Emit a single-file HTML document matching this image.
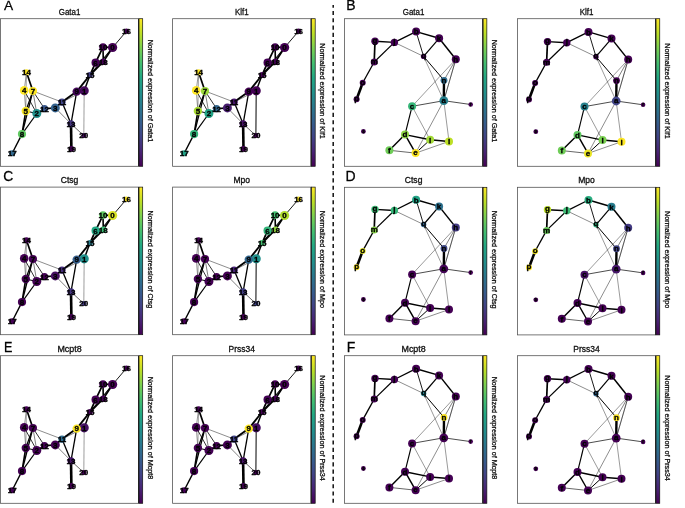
<!DOCTYPE html>
<html><head><meta charset="utf-8"><title>Figure</title>
<style>
html,body{margin:0;padding:0;background:#fff;}
body{width:685px;height:508px;overflow:hidden;font-family:"Liberation Sans",sans-serif;}
svg{display:block;font-family:"Liberation Sans",sans-serif;}
text{stroke:#000;stroke-width:0.28px;paint-order:stroke;}
text.nl{stroke-width:0.3px;}
</style></head><body>
<svg width="685" height="508" viewBox="0 0 685 508">
<defs><linearGradient id="vg" x1="0" y1="0" x2="0" y2="1">
<stop offset="0.0" stop-color="#fde725"/>
<stop offset="0.1" stop-color="#bddf26"/>
<stop offset="0.2" stop-color="#7ad151"/>
<stop offset="0.3" stop-color="#44bf70"/>
<stop offset="0.4" stop-color="#22a884"/>
<stop offset="0.5" stop-color="#21918c"/>
<stop offset="0.6" stop-color="#2a788e"/>
<stop offset="0.7" stop-color="#355f8d"/>
<stop offset="0.8" stop-color="#414487"/>
<stop offset="0.9" stop-color="#482475"/>
<stop offset="1.0" stop-color="#440154"/>
</linearGradient></defs>
<rect width="685" height="508" fill="#fff"/>
<g opacity="0.999">
<rect x="0.55" y="18.70" width="138.00" height="147.60" fill="#fff" stroke="#555" stroke-width="0.8"/>
<line x1="138.55" y1="18.70" x2="138.55" y2="166.30" stroke="#111" stroke-width="0.8"/>
<rect x="139.00" y="18.70" width="3.70" height="147.60" fill="url(#vg)" stroke="#111" stroke-width="0.7"/>
<text x="58.75" y="15.25" font-size="8.4" textLength="21.6" lengthAdjust="spacingAndGlyphs" fill="#111">Gata1</text>
<text transform="translate(147.75 91.00) rotate(90) scale(0.948 1)" font-size="7.6" text-anchor="middle" fill="#111">Normalized expression of Gata1</text>
<line x1="126.5" y1="31.2" x2="112.6" y2="47.5" stroke="#000" stroke-width="0.90"/>
<line x1="103.0" y1="47.1" x2="112.6" y2="47.5" stroke="#000" stroke-width="1.60"/>
<line x1="103.0" y1="47.1" x2="95.6" y2="62.7" stroke="#000" stroke-width="1.70"/>
<line x1="103.0" y1="47.1" x2="103.3" y2="61.7" stroke="#000" stroke-width="1.60"/>
<line x1="112.6" y1="47.5" x2="103.3" y2="61.7" stroke="#000" stroke-width="1.70"/>
<line x1="95.6" y1="62.7" x2="103.3" y2="61.7" stroke="#000" stroke-width="1.40"/>
<line x1="95.6" y1="62.7" x2="90.0" y2="75.0" stroke="#000" stroke-width="1.80"/>
<line x1="103.3" y1="61.7" x2="90.0" y2="75.0" stroke="#000" stroke-width="1.80"/>
<line x1="112.6" y1="47.5" x2="90.0" y2="75.0" stroke="#000" stroke-width="1.10"/>
<line x1="90.0" y1="75.0" x2="76.7" y2="91.6" stroke="#000" stroke-width="1.90"/>
<line x1="90.0" y1="75.0" x2="84.2" y2="90.8" stroke="#000" stroke-width="1.50"/>
<line x1="76.7" y1="91.6" x2="84.2" y2="90.8" stroke="#000" stroke-width="1.00"/>
<line x1="76.7" y1="91.6" x2="62.0" y2="102.1" stroke="#000" stroke-width="1.90"/>
<line x1="84.2" y1="90.8" x2="62.0" y2="102.1" stroke="#000" stroke-width="0.50"/>
<line x1="84.2" y1="90.8" x2="83.8" y2="135.6" stroke="#a6a6a6" stroke-width="1.10"/>
<line x1="76.7" y1="91.6" x2="71.0" y2="123.8" stroke="#000" stroke-width="1.30"/>
<line x1="62.0" y1="102.1" x2="71.0" y2="123.8" stroke="#000" stroke-width="1.30"/>
<line x1="62.0" y1="102.1" x2="55.3" y2="107.9" stroke="#000" stroke-width="1.60"/>
<line x1="55.3" y1="107.9" x2="44.5" y2="108.7" stroke="#000" stroke-width="1.60"/>
<line x1="44.5" y1="108.7" x2="36.8" y2="113.5" stroke="#000" stroke-width="1.60"/>
<line x1="36.8" y1="113.5" x2="25.8" y2="111.0" stroke="#000" stroke-width="1.00"/>
<line x1="36.8" y1="113.5" x2="32.9" y2="91.0" stroke="#000" stroke-width="0.50"/>
<line x1="36.8" y1="113.5" x2="24.2" y2="90.4" stroke="#000" stroke-width="0.80"/>
<line x1="36.8" y1="113.5" x2="22.0" y2="134.1" stroke="#000" stroke-width="1.20"/>
<line x1="25.8" y1="111.0" x2="22.0" y2="134.1" stroke="#000" stroke-width="1.60"/>
<line x1="25.8" y1="111.0" x2="32.9" y2="91.0" stroke="#000" stroke-width="1.20"/>
<line x1="32.9" y1="91.0" x2="22.0" y2="134.1" stroke="#000" stroke-width="1.30"/>
<line x1="25.8" y1="111.0" x2="24.2" y2="90.4" stroke="#000" stroke-width="0.40"/>
<line x1="24.2" y1="90.4" x2="26.5" y2="72.2" stroke="#000" stroke-width="0.40"/>
<line x1="32.9" y1="91.0" x2="26.5" y2="72.2" stroke="#000" stroke-width="1.70"/>
<line x1="32.9" y1="91.0" x2="62.0" y2="102.1" stroke="#000" stroke-width="0.45"/>
<line x1="32.9" y1="91.0" x2="44.5" y2="108.7" stroke="#000" stroke-width="0.80"/>
<line x1="55.3" y1="107.9" x2="71.0" y2="123.8" stroke="#000" stroke-width="0.50"/>
<line x1="71.0" y1="123.8" x2="71.4" y2="148.9" stroke="#000" stroke-width="2.60"/>
<line x1="71.0" y1="123.8" x2="83.8" y2="135.6" stroke="#000" stroke-width="0.60"/>
<line x1="22.0" y1="134.1" x2="12.2" y2="153.2" stroke="#000" stroke-width="1.40"/>
<line x1="26.5" y1="72.2" x2="25.8" y2="111.0" stroke="#000" stroke-width="0.35"/>
<circle cx="112.6" cy="47.5" r="4.6" fill="#440154"/>
<circle cx="84.2" cy="90.8" r="4.6" fill="#45085b"/>
<circle cx="36.8" cy="113.5" r="4.5" fill="#21918c"/>
<circle cx="55.3" cy="107.9" r="4.5" fill="#34628d"/>
<circle cx="24.2" cy="90.4" r="4.3" fill="#fde725"/>
<circle cx="25.8" cy="111.0" r="4.2" fill="#f7e625"/>
<circle cx="95.6" cy="62.7" r="4.1" fill="#440154"/>
<circle cx="32.9" cy="91.0" r="4.1" fill="#fde725"/>
<circle cx="22.0" cy="134.1" r="4.1" fill="#5fc860"/>
<circle cx="76.7" cy="91.6" r="4.2" fill="#45085b"/>
<circle cx="103.0" cy="47.1" r="3.8" fill="#440154"/>
<circle cx="62.0" cy="102.1" r="3.7" fill="#414487"/>
<circle cx="44.5" cy="108.7" r="3.6" fill="#39578b"/>
<circle cx="71.0" cy="123.8" r="3.6" fill="#44347e"/>
<circle cx="26.5" cy="72.2" r="3.0" fill="#fde725"/>
<circle cx="90.0" cy="75.0" r="2.9" fill="#423e83"/>
<circle cx="126.5" cy="31.2" r="2.6" fill="#440154"/>
<circle cx="12.2" cy="153.2" r="3.0" fill="#31698d"/>
<circle cx="103.3" cy="61.7" r="3.2" fill="#440154"/>
<circle cx="71.4" cy="148.9" r="2.8" fill="#440154"/>
<circle cx="83.8" cy="135.6" r="2.5" fill="#450c5e"/>
<text class="nl" x="112.6" y="50.3" font-size="8" font-weight="bold" text-anchor="middle" fill="#000">0</text>
<text class="nl" x="84.2" y="93.6" font-size="8" font-weight="bold" text-anchor="middle" fill="#000">1</text>
<text class="nl" x="36.8" y="116.3" font-size="8" font-weight="bold" text-anchor="middle" fill="#000">2</text>
<text class="nl" x="55.3" y="110.7" font-size="8" font-weight="bold" text-anchor="middle" fill="#000">3</text>
<text class="nl" x="24.2" y="93.2" font-size="8" font-weight="bold" text-anchor="middle" fill="#000">4</text>
<text class="nl" x="25.8" y="113.8" font-size="8" font-weight="bold" text-anchor="middle" fill="#000">5</text>
<text class="nl" x="95.6" y="65.5" font-size="8" font-weight="bold" text-anchor="middle" fill="#000">6</text>
<text class="nl" x="32.9" y="93.8" font-size="8" font-weight="bold" text-anchor="middle" fill="#000">7</text>
<text class="nl" x="22.0" y="136.9" font-size="8" font-weight="bold" text-anchor="middle" fill="#000">8</text>
<text class="nl" x="76.7" y="94.4" font-size="8" font-weight="bold" text-anchor="middle" fill="#000">9</text>
<text class="nl" x="103.0" y="49.9" font-size="8" font-weight="bold" text-anchor="middle" fill="#000">10</text>
<text class="nl" x="62.0" y="104.9" font-size="8" font-weight="bold" text-anchor="middle" fill="#000">11</text>
<text class="nl" x="44.5" y="111.5" font-size="8" font-weight="bold" text-anchor="middle" fill="#000">12</text>
<text class="nl" x="71.0" y="126.6" font-size="8" font-weight="bold" text-anchor="middle" fill="#000">13</text>
<text class="nl" x="26.5" y="75.0" font-size="8" font-weight="bold" text-anchor="middle" fill="#000">14</text>
<text class="nl" x="90.0" y="77.8" font-size="8" font-weight="bold" text-anchor="middle" fill="#000">15</text>
<text class="nl" x="126.5" y="34.0" font-size="8" font-weight="bold" text-anchor="middle" fill="#000">16</text>
<text class="nl" x="12.2" y="156.0" font-size="8" font-weight="bold" text-anchor="middle" fill="#000">17</text>
<text class="nl" x="103.3" y="64.5" font-size="8" font-weight="bold" text-anchor="middle" fill="#000">18</text>
<text class="nl" x="71.4" y="151.7" font-size="8" font-weight="bold" text-anchor="middle" fill="#000">19</text>
<text class="nl" x="83.8" y="138.4" font-size="8" font-weight="bold" text-anchor="middle" fill="#000">20</text>
<rect x="172.60" y="18.70" width="138.45" height="147.60" fill="#fff" stroke="#555" stroke-width="0.8"/>
<line x1="311.05" y1="18.70" x2="311.05" y2="166.30" stroke="#111" stroke-width="0.8"/>
<rect x="311.50" y="18.70" width="3.70" height="147.60" fill="url(#vg)" stroke="#111" stroke-width="0.7"/>
<text x="234.98" y="15.25" font-size="8.4" textLength="13.7" lengthAdjust="spacingAndGlyphs" fill="#111">Klf1</text>
<text transform="translate(320.25 91.00) rotate(90) scale(0.948 1)" font-size="7.6" text-anchor="middle" fill="#111">Normalized expression of Klf1</text>
<line x1="298.6" y1="31.2" x2="284.6" y2="47.5" stroke="#000" stroke-width="0.90"/>
<line x1="275.1" y1="47.1" x2="284.6" y2="47.5" stroke="#000" stroke-width="1.60"/>
<line x1="275.1" y1="47.1" x2="267.6" y2="62.7" stroke="#000" stroke-width="1.70"/>
<line x1="275.1" y1="47.1" x2="275.4" y2="61.7" stroke="#000" stroke-width="1.60"/>
<line x1="284.6" y1="47.5" x2="275.4" y2="61.7" stroke="#000" stroke-width="1.70"/>
<line x1="267.6" y1="62.7" x2="275.4" y2="61.7" stroke="#000" stroke-width="1.40"/>
<line x1="267.6" y1="62.7" x2="262.1" y2="75.0" stroke="#000" stroke-width="1.80"/>
<line x1="275.4" y1="61.7" x2="262.1" y2="75.0" stroke="#000" stroke-width="1.80"/>
<line x1="284.6" y1="47.5" x2="262.1" y2="75.0" stroke="#000" stroke-width="1.10"/>
<line x1="262.1" y1="75.0" x2="248.8" y2="91.6" stroke="#000" stroke-width="1.90"/>
<line x1="262.1" y1="75.0" x2="256.2" y2="90.8" stroke="#000" stroke-width="1.50"/>
<line x1="248.8" y1="91.6" x2="256.2" y2="90.8" stroke="#000" stroke-width="1.00"/>
<line x1="248.8" y1="91.6" x2="234.1" y2="102.1" stroke="#000" stroke-width="1.90"/>
<line x1="256.2" y1="90.8" x2="234.1" y2="102.1" stroke="#000" stroke-width="0.50"/>
<line x1="256.2" y1="90.8" x2="255.9" y2="135.6" stroke="#000" stroke-width="1.00"/>
<line x1="248.8" y1="91.6" x2="243.1" y2="123.8" stroke="#000" stroke-width="1.30"/>
<line x1="234.1" y1="102.1" x2="243.1" y2="123.8" stroke="#000" stroke-width="1.30"/>
<line x1="234.1" y1="102.1" x2="227.4" y2="107.9" stroke="#000" stroke-width="1.60"/>
<line x1="227.4" y1="107.9" x2="216.6" y2="108.7" stroke="#000" stroke-width="1.60"/>
<line x1="216.6" y1="108.7" x2="208.9" y2="113.5" stroke="#000" stroke-width="1.60"/>
<line x1="208.9" y1="113.5" x2="197.9" y2="111.0" stroke="#000" stroke-width="1.00"/>
<line x1="208.9" y1="113.5" x2="205.0" y2="91.0" stroke="#000" stroke-width="0.50"/>
<line x1="208.9" y1="113.5" x2="196.2" y2="90.4" stroke="#000" stroke-width="0.80"/>
<line x1="208.9" y1="113.5" x2="194.1" y2="134.1" stroke="#000" stroke-width="1.20"/>
<line x1="197.9" y1="111.0" x2="194.1" y2="134.1" stroke="#000" stroke-width="1.60"/>
<line x1="197.9" y1="111.0" x2="205.0" y2="91.0" stroke="#000" stroke-width="1.20"/>
<line x1="205.0" y1="91.0" x2="194.1" y2="134.1" stroke="#000" stroke-width="1.30"/>
<line x1="197.9" y1="111.0" x2="196.2" y2="90.4" stroke="#000" stroke-width="0.40"/>
<line x1="196.2" y1="90.4" x2="198.6" y2="72.2" stroke="#000" stroke-width="0.40"/>
<line x1="205.0" y1="91.0" x2="198.6" y2="72.2" stroke="#000" stroke-width="1.70"/>
<line x1="205.0" y1="91.0" x2="234.1" y2="102.1" stroke="#000" stroke-width="0.45"/>
<line x1="205.0" y1="91.0" x2="216.6" y2="108.7" stroke="#000" stroke-width="0.80"/>
<line x1="227.4" y1="107.9" x2="243.1" y2="123.8" stroke="#000" stroke-width="0.50"/>
<line x1="243.1" y1="123.8" x2="243.5" y2="148.9" stroke="#000" stroke-width="2.60"/>
<line x1="243.1" y1="123.8" x2="255.9" y2="135.6" stroke="#000" stroke-width="0.60"/>
<line x1="194.1" y1="134.1" x2="184.2" y2="153.2" stroke="#000" stroke-width="1.40"/>
<line x1="198.6" y1="72.2" x2="197.9" y2="111.0" stroke="#000" stroke-width="0.35"/>
<circle cx="284.6" cy="47.5" r="4.6" fill="#440154"/>
<circle cx="256.2" cy="90.8" r="4.6" fill="#440154"/>
<circle cx="208.9" cy="113.5" r="4.5" fill="#22a386"/>
<circle cx="227.4" cy="107.9" r="4.5" fill="#471d6e"/>
<circle cx="196.2" cy="90.4" r="4.3" fill="#fde725"/>
<circle cx="197.9" cy="111.0" r="4.2" fill="#a9db33"/>
<circle cx="267.6" cy="62.7" r="4.1" fill="#440154"/>
<circle cx="205.0" cy="91.0" r="4.1" fill="#9bd83c"/>
<circle cx="194.1" cy="134.1" r="4.1" fill="#33b47a"/>
<circle cx="248.8" cy="91.6" r="4.2" fill="#440154"/>
<circle cx="275.1" cy="47.1" r="3.8" fill="#440154"/>
<circle cx="234.1" cy="102.1" r="3.7" fill="#461668"/>
<circle cx="216.6" cy="108.7" r="3.6" fill="#32668d"/>
<circle cx="243.1" cy="123.8" r="3.6" fill="#461264"/>
<circle cx="198.6" cy="72.2" r="3.0" fill="#fde725"/>
<circle cx="262.1" cy="75.0" r="2.9" fill="#440154"/>
<circle cx="298.6" cy="31.2" r="2.6" fill="#440154"/>
<circle cx="184.2" cy="153.2" r="3.0" fill="#22a186"/>
<circle cx="275.4" cy="61.7" r="3.2" fill="#440154"/>
<circle cx="243.5" cy="148.9" r="2.8" fill="#440154"/>
<circle cx="255.9" cy="135.6" r="2.5" fill="#440154"/>
<text class="nl" x="284.6" y="50.3" font-size="8" font-weight="bold" text-anchor="middle" fill="#000">0</text>
<text class="nl" x="256.2" y="93.6" font-size="8" font-weight="bold" text-anchor="middle" fill="#000">1</text>
<text class="nl" x="208.9" y="116.3" font-size="8" font-weight="bold" text-anchor="middle" fill="#000">2</text>
<text class="nl" x="227.4" y="110.7" font-size="8" font-weight="bold" text-anchor="middle" fill="#000">3</text>
<text class="nl" x="196.2" y="93.2" font-size="8" font-weight="bold" text-anchor="middle" fill="#000">4</text>
<text class="nl" x="197.9" y="113.8" font-size="8" font-weight="bold" text-anchor="middle" fill="#000">5</text>
<text class="nl" x="267.6" y="65.5" font-size="8" font-weight="bold" text-anchor="middle" fill="#000">6</text>
<text class="nl" x="205.0" y="93.8" font-size="8" font-weight="bold" text-anchor="middle" fill="#000">7</text>
<text class="nl" x="194.1" y="136.9" font-size="8" font-weight="bold" text-anchor="middle" fill="#000">8</text>
<text class="nl" x="248.8" y="94.4" font-size="8" font-weight="bold" text-anchor="middle" fill="#000">9</text>
<text class="nl" x="275.1" y="49.9" font-size="8" font-weight="bold" text-anchor="middle" fill="#000">10</text>
<text class="nl" x="234.1" y="104.9" font-size="8" font-weight="bold" text-anchor="middle" fill="#000">11</text>
<text class="nl" x="216.6" y="111.5" font-size="8" font-weight="bold" text-anchor="middle" fill="#000">12</text>
<text class="nl" x="243.1" y="126.6" font-size="8" font-weight="bold" text-anchor="middle" fill="#000">13</text>
<text class="nl" x="198.6" y="75.0" font-size="8" font-weight="bold" text-anchor="middle" fill="#000">14</text>
<text class="nl" x="262.1" y="77.8" font-size="8" font-weight="bold" text-anchor="middle" fill="#000">15</text>
<text class="nl" x="298.6" y="34.0" font-size="8" font-weight="bold" text-anchor="middle" fill="#000">16</text>
<text class="nl" x="184.2" y="156.0" font-size="8" font-weight="bold" text-anchor="middle" fill="#000">17</text>
<text class="nl" x="275.4" y="64.5" font-size="8" font-weight="bold" text-anchor="middle" fill="#000">18</text>
<text class="nl" x="243.5" y="151.7" font-size="8" font-weight="bold" text-anchor="middle" fill="#000">19</text>
<text class="nl" x="255.9" y="138.4" font-size="8" font-weight="bold" text-anchor="middle" fill="#000">20</text>
<rect x="0.55" y="187.10" width="138.00" height="147.60" fill="#fff" stroke="#555" stroke-width="0.8"/>
<line x1="138.55" y1="187.10" x2="138.55" y2="334.70" stroke="#111" stroke-width="0.8"/>
<rect x="139.00" y="187.10" width="3.70" height="147.60" fill="url(#vg)" stroke="#111" stroke-width="0.7"/>
<text x="60.75" y="183.20" font-size="8.4" textLength="17.6" lengthAdjust="spacingAndGlyphs" fill="#111">Ctsg</text>
<text transform="translate(147.75 259.40) rotate(90) scale(0.948 1)" font-size="7.6" text-anchor="middle" fill="#111">Normalized expression of Ctsg</text>
<line x1="126.5" y1="199.2" x2="112.6" y2="215.5" stroke="#000" stroke-width="0.90"/>
<line x1="103.0" y1="215.1" x2="112.6" y2="215.5" stroke="#000" stroke-width="1.60"/>
<line x1="103.0" y1="215.1" x2="95.6" y2="230.7" stroke="#000" stroke-width="1.70"/>
<line x1="103.0" y1="215.1" x2="103.3" y2="229.7" stroke="#000" stroke-width="1.60"/>
<line x1="112.6" y1="215.5" x2="103.3" y2="229.7" stroke="#000" stroke-width="1.70"/>
<line x1="95.6" y1="230.7" x2="103.3" y2="229.7" stroke="#000" stroke-width="1.40"/>
<line x1="95.6" y1="230.7" x2="90.0" y2="243.0" stroke="#000" stroke-width="1.80"/>
<line x1="103.3" y1="229.7" x2="90.0" y2="243.0" stroke="#000" stroke-width="1.80"/>
<line x1="112.6" y1="215.5" x2="90.0" y2="243.0" stroke="#000" stroke-width="1.10"/>
<line x1="90.0" y1="243.0" x2="76.7" y2="259.6" stroke="#000" stroke-width="1.90"/>
<line x1="90.0" y1="243.0" x2="84.2" y2="258.8" stroke="#000" stroke-width="1.50"/>
<line x1="76.7" y1="259.6" x2="84.2" y2="258.8" stroke="#000" stroke-width="1.00"/>
<line x1="76.7" y1="259.6" x2="62.0" y2="270.1" stroke="#000" stroke-width="1.90"/>
<line x1="84.2" y1="258.8" x2="62.0" y2="270.1" stroke="#000" stroke-width="0.50"/>
<line x1="84.2" y1="258.8" x2="83.8" y2="303.6" stroke="#a6a6a6" stroke-width="1.10"/>
<line x1="76.7" y1="259.6" x2="71.0" y2="291.8" stroke="#000" stroke-width="1.30"/>
<line x1="62.0" y1="270.1" x2="71.0" y2="291.8" stroke="#000" stroke-width="1.30"/>
<line x1="62.0" y1="270.1" x2="55.3" y2="275.9" stroke="#000" stroke-width="1.60"/>
<line x1="55.3" y1="275.9" x2="44.5" y2="276.7" stroke="#000" stroke-width="1.60"/>
<line x1="44.5" y1="276.7" x2="36.8" y2="281.5" stroke="#000" stroke-width="1.60"/>
<line x1="36.8" y1="281.5" x2="25.8" y2="279.0" stroke="#000" stroke-width="1.00"/>
<line x1="36.8" y1="281.5" x2="32.9" y2="259.0" stroke="#000" stroke-width="0.50"/>
<line x1="36.8" y1="281.5" x2="24.2" y2="258.4" stroke="#000" stroke-width="0.80"/>
<line x1="36.8" y1="281.5" x2="22.0" y2="302.1" stroke="#000" stroke-width="1.20"/>
<line x1="25.8" y1="279.0" x2="22.0" y2="302.1" stroke="#000" stroke-width="1.60"/>
<line x1="25.8" y1="279.0" x2="32.9" y2="259.0" stroke="#000" stroke-width="1.20"/>
<line x1="32.9" y1="259.0" x2="22.0" y2="302.1" stroke="#000" stroke-width="1.30"/>
<line x1="25.8" y1="279.0" x2="24.2" y2="258.4" stroke="#000" stroke-width="0.40"/>
<line x1="24.2" y1="258.4" x2="26.5" y2="240.2" stroke="#000" stroke-width="0.40"/>
<line x1="32.9" y1="259.0" x2="26.5" y2="240.2" stroke="#000" stroke-width="1.70"/>
<line x1="32.9" y1="259.0" x2="62.0" y2="270.1" stroke="#000" stroke-width="0.45"/>
<line x1="32.9" y1="259.0" x2="44.5" y2="276.7" stroke="#000" stroke-width="0.80"/>
<line x1="55.3" y1="275.9" x2="71.0" y2="291.8" stroke="#000" stroke-width="0.50"/>
<line x1="71.0" y1="291.8" x2="71.4" y2="316.9" stroke="#000" stroke-width="2.60"/>
<line x1="71.0" y1="291.8" x2="83.8" y2="303.6" stroke="#000" stroke-width="0.60"/>
<line x1="22.0" y1="302.1" x2="12.2" y2="321.2" stroke="#000" stroke-width="1.40"/>
<line x1="26.5" y1="240.2" x2="25.8" y2="279.0" stroke="#000" stroke-width="0.35"/>
<circle cx="112.6" cy="215.5" r="4.6" fill="#d7e226"/>
<circle cx="84.2" cy="258.8" r="4.6" fill="#21918c"/>
<circle cx="36.8" cy="281.5" r="4.5" fill="#440154"/>
<circle cx="55.3" cy="275.9" r="4.5" fill="#460f61"/>
<circle cx="24.2" cy="258.4" r="4.3" fill="#440154"/>
<circle cx="25.8" cy="279.0" r="4.2" fill="#440154"/>
<circle cx="95.6" cy="230.7" r="4.1" fill="#22a884"/>
<circle cx="32.9" cy="259.0" r="4.1" fill="#440154"/>
<circle cx="22.0" cy="302.1" r="4.1" fill="#440154"/>
<circle cx="76.7" cy="259.6" r="4.2" fill="#355f8d"/>
<circle cx="103.0" cy="215.1" r="3.8" fill="#5fc860"/>
<circle cx="62.0" cy="270.1" r="3.7" fill="#462e7a"/>
<circle cx="44.5" cy="276.7" r="3.6" fill="#440154"/>
<circle cx="71.0" cy="291.8" r="3.6" fill="#44347e"/>
<circle cx="26.5" cy="240.2" r="3.0" fill="#440154"/>
<circle cx="90.0" cy="243.0" r="2.9" fill="#287d8e"/>
<circle cx="126.5" cy="199.2" r="2.6" fill="#fde725"/>
<circle cx="12.2" cy="321.2" r="3.0" fill="#440154"/>
<circle cx="103.3" cy="229.7" r="3.2" fill="#3dba74"/>
<circle cx="71.4" cy="316.9" r="2.8" fill="#440154"/>
<circle cx="83.8" cy="303.6" r="2.5" fill="#433a82"/>
<text class="nl" x="112.6" y="218.3" font-size="8" font-weight="bold" text-anchor="middle" fill="#000">0</text>
<text class="nl" x="84.2" y="261.6" font-size="8" font-weight="bold" text-anchor="middle" fill="#000">1</text>
<text class="nl" x="36.8" y="284.3" font-size="8" font-weight="bold" text-anchor="middle" fill="#000">2</text>
<text class="nl" x="55.3" y="278.7" font-size="8" font-weight="bold" text-anchor="middle" fill="#000">3</text>
<text class="nl" x="24.2" y="261.2" font-size="8" font-weight="bold" text-anchor="middle" fill="#000">4</text>
<text class="nl" x="25.8" y="281.8" font-size="8" font-weight="bold" text-anchor="middle" fill="#000">5</text>
<text class="nl" x="95.6" y="233.5" font-size="8" font-weight="bold" text-anchor="middle" fill="#000">6</text>
<text class="nl" x="32.9" y="261.8" font-size="8" font-weight="bold" text-anchor="middle" fill="#000">7</text>
<text class="nl" x="22.0" y="304.9" font-size="8" font-weight="bold" text-anchor="middle" fill="#000">8</text>
<text class="nl" x="76.7" y="262.4" font-size="8" font-weight="bold" text-anchor="middle" fill="#000">9</text>
<text class="nl" x="103.0" y="217.9" font-size="8" font-weight="bold" text-anchor="middle" fill="#000">10</text>
<text class="nl" x="62.0" y="272.9" font-size="8" font-weight="bold" text-anchor="middle" fill="#000">11</text>
<text class="nl" x="44.5" y="279.5" font-size="8" font-weight="bold" text-anchor="middle" fill="#000">12</text>
<text class="nl" x="71.0" y="294.6" font-size="8" font-weight="bold" text-anchor="middle" fill="#000">13</text>
<text class="nl" x="26.5" y="243.0" font-size="8" font-weight="bold" text-anchor="middle" fill="#000">14</text>
<text class="nl" x="90.0" y="245.8" font-size="8" font-weight="bold" text-anchor="middle" fill="#000">15</text>
<text class="nl" x="126.5" y="202.0" font-size="8" font-weight="bold" text-anchor="middle" fill="#000">16</text>
<text class="nl" x="12.2" y="324.0" font-size="8" font-weight="bold" text-anchor="middle" fill="#000">17</text>
<text class="nl" x="103.3" y="232.5" font-size="8" font-weight="bold" text-anchor="middle" fill="#000">18</text>
<text class="nl" x="71.4" y="319.7" font-size="8" font-weight="bold" text-anchor="middle" fill="#000">19</text>
<text class="nl" x="83.8" y="306.4" font-size="8" font-weight="bold" text-anchor="middle" fill="#000">20</text>
<rect x="172.60" y="187.10" width="138.45" height="147.60" fill="#fff" stroke="#555" stroke-width="0.8"/>
<line x1="311.05" y1="187.10" x2="311.05" y2="334.70" stroke="#111" stroke-width="0.8"/>
<rect x="311.50" y="187.10" width="3.70" height="147.60" fill="url(#vg)" stroke="#111" stroke-width="0.7"/>
<text x="233.53" y="183.20" font-size="8.4" textLength="16.6" lengthAdjust="spacingAndGlyphs" fill="#111">Mpo</text>
<text transform="translate(320.25 259.40) rotate(90) scale(0.948 1)" font-size="7.6" text-anchor="middle" fill="#111">Normalized expression of Mpo</text>
<line x1="298.6" y1="199.2" x2="284.6" y2="215.5" stroke="#000" stroke-width="0.90"/>
<line x1="275.1" y1="215.1" x2="284.6" y2="215.5" stroke="#000" stroke-width="1.60"/>
<line x1="275.1" y1="215.1" x2="267.6" y2="230.7" stroke="#000" stroke-width="1.70"/>
<line x1="275.1" y1="215.1" x2="275.4" y2="229.7" stroke="#000" stroke-width="1.60"/>
<line x1="284.6" y1="215.5" x2="275.4" y2="229.7" stroke="#000" stroke-width="1.70"/>
<line x1="267.6" y1="230.7" x2="275.4" y2="229.7" stroke="#000" stroke-width="1.40"/>
<line x1="267.6" y1="230.7" x2="262.1" y2="243.0" stroke="#000" stroke-width="1.80"/>
<line x1="275.4" y1="229.7" x2="262.1" y2="243.0" stroke="#000" stroke-width="1.80"/>
<line x1="284.6" y1="215.5" x2="262.1" y2="243.0" stroke="#000" stroke-width="1.10"/>
<line x1="262.1" y1="243.0" x2="248.8" y2="259.6" stroke="#000" stroke-width="1.90"/>
<line x1="262.1" y1="243.0" x2="256.2" y2="258.8" stroke="#000" stroke-width="1.50"/>
<line x1="248.8" y1="259.6" x2="256.2" y2="258.8" stroke="#000" stroke-width="1.00"/>
<line x1="248.8" y1="259.6" x2="234.1" y2="270.1" stroke="#000" stroke-width="1.90"/>
<line x1="256.2" y1="258.8" x2="234.1" y2="270.1" stroke="#000" stroke-width="0.50"/>
<line x1="256.2" y1="258.8" x2="255.9" y2="303.6" stroke="#000" stroke-width="1.00"/>
<line x1="248.8" y1="259.6" x2="243.1" y2="291.8" stroke="#000" stroke-width="1.30"/>
<line x1="234.1" y1="270.1" x2="243.1" y2="291.8" stroke="#000" stroke-width="1.30"/>
<line x1="234.1" y1="270.1" x2="227.4" y2="275.9" stroke="#000" stroke-width="1.60"/>
<line x1="227.4" y1="275.9" x2="216.6" y2="276.7" stroke="#000" stroke-width="1.60"/>
<line x1="216.6" y1="276.7" x2="208.9" y2="281.5" stroke="#000" stroke-width="1.60"/>
<line x1="208.9" y1="281.5" x2="197.9" y2="279.0" stroke="#000" stroke-width="1.00"/>
<line x1="208.9" y1="281.5" x2="205.0" y2="259.0" stroke="#000" stroke-width="0.50"/>
<line x1="208.9" y1="281.5" x2="196.2" y2="258.4" stroke="#000" stroke-width="0.80"/>
<line x1="208.9" y1="281.5" x2="194.1" y2="302.1" stroke="#000" stroke-width="1.20"/>
<line x1="197.9" y1="279.0" x2="194.1" y2="302.1" stroke="#000" stroke-width="1.60"/>
<line x1="197.9" y1="279.0" x2="205.0" y2="259.0" stroke="#000" stroke-width="1.20"/>
<line x1="205.0" y1="259.0" x2="194.1" y2="302.1" stroke="#000" stroke-width="1.30"/>
<line x1="197.9" y1="279.0" x2="196.2" y2="258.4" stroke="#000" stroke-width="0.40"/>
<line x1="196.2" y1="258.4" x2="198.6" y2="240.2" stroke="#000" stroke-width="0.40"/>
<line x1="205.0" y1="259.0" x2="198.6" y2="240.2" stroke="#000" stroke-width="1.70"/>
<line x1="205.0" y1="259.0" x2="234.1" y2="270.1" stroke="#000" stroke-width="0.45"/>
<line x1="205.0" y1="259.0" x2="216.6" y2="276.7" stroke="#000" stroke-width="0.80"/>
<line x1="227.4" y1="275.9" x2="243.1" y2="291.8" stroke="#000" stroke-width="0.50"/>
<line x1="243.1" y1="291.8" x2="243.5" y2="316.9" stroke="#000" stroke-width="2.60"/>
<line x1="243.1" y1="291.8" x2="255.9" y2="303.6" stroke="#000" stroke-width="0.60"/>
<line x1="194.1" y1="302.1" x2="184.2" y2="321.2" stroke="#000" stroke-width="1.40"/>
<line x1="198.6" y1="240.2" x2="197.9" y2="279.0" stroke="#000" stroke-width="0.35"/>
<circle cx="284.6" cy="215.5" r="4.6" fill="#b0dc2f"/>
<circle cx="256.2" cy="258.8" r="4.6" fill="#21918c"/>
<circle cx="208.9" cy="281.5" r="4.5" fill="#440154"/>
<circle cx="227.4" cy="275.9" r="4.5" fill="#440154"/>
<circle cx="196.2" cy="258.4" r="4.3" fill="#440154"/>
<circle cx="197.9" cy="279.0" r="4.2" fill="#440154"/>
<circle cx="267.6" cy="230.7" r="4.1" fill="#33b47a"/>
<circle cx="205.0" cy="259.0" r="4.1" fill="#440154"/>
<circle cx="194.1" cy="302.1" r="4.1" fill="#440154"/>
<circle cx="248.8" cy="259.6" r="4.2" fill="#32668d"/>
<circle cx="275.1" cy="215.1" r="3.8" fill="#44bf70"/>
<circle cx="234.1" cy="270.1" r="3.7" fill="#482475"/>
<circle cx="216.6" cy="276.7" r="3.6" fill="#440154"/>
<circle cx="243.1" cy="291.8" r="3.6" fill="#423e83"/>
<circle cx="198.6" cy="240.2" r="3.0" fill="#440154"/>
<circle cx="262.1" cy="243.0" r="2.9" fill="#44bf70"/>
<circle cx="298.6" cy="199.2" r="2.6" fill="#fde725"/>
<circle cx="184.2" cy="321.2" r="3.0" fill="#440154"/>
<circle cx="275.4" cy="229.7" r="3.2" fill="#95d740"/>
<circle cx="243.5" cy="316.9" r="2.8" fill="#440154"/>
<circle cx="255.9" cy="303.6" r="2.5" fill="#414487"/>
<text class="nl" x="284.6" y="218.3" font-size="8" font-weight="bold" text-anchor="middle" fill="#000">0</text>
<text class="nl" x="256.2" y="261.6" font-size="8" font-weight="bold" text-anchor="middle" fill="#000">1</text>
<text class="nl" x="208.9" y="284.3" font-size="8" font-weight="bold" text-anchor="middle" fill="#000">2</text>
<text class="nl" x="227.4" y="278.7" font-size="8" font-weight="bold" text-anchor="middle" fill="#000">3</text>
<text class="nl" x="196.2" y="261.2" font-size="8" font-weight="bold" text-anchor="middle" fill="#000">4</text>
<text class="nl" x="197.9" y="281.8" font-size="8" font-weight="bold" text-anchor="middle" fill="#000">5</text>
<text class="nl" x="267.6" y="233.5" font-size="8" font-weight="bold" text-anchor="middle" fill="#000">6</text>
<text class="nl" x="205.0" y="261.8" font-size="8" font-weight="bold" text-anchor="middle" fill="#000">7</text>
<text class="nl" x="194.1" y="304.9" font-size="8" font-weight="bold" text-anchor="middle" fill="#000">8</text>
<text class="nl" x="248.8" y="262.4" font-size="8" font-weight="bold" text-anchor="middle" fill="#000">9</text>
<text class="nl" x="275.1" y="217.9" font-size="8" font-weight="bold" text-anchor="middle" fill="#000">10</text>
<text class="nl" x="234.1" y="272.9" font-size="8" font-weight="bold" text-anchor="middle" fill="#000">11</text>
<text class="nl" x="216.6" y="279.5" font-size="8" font-weight="bold" text-anchor="middle" fill="#000">12</text>
<text class="nl" x="243.1" y="294.6" font-size="8" font-weight="bold" text-anchor="middle" fill="#000">13</text>
<text class="nl" x="198.6" y="243.0" font-size="8" font-weight="bold" text-anchor="middle" fill="#000">14</text>
<text class="nl" x="262.1" y="245.8" font-size="8" font-weight="bold" text-anchor="middle" fill="#000">15</text>
<text class="nl" x="298.6" y="202.0" font-size="8" font-weight="bold" text-anchor="middle" fill="#000">16</text>
<text class="nl" x="184.2" y="324.0" font-size="8" font-weight="bold" text-anchor="middle" fill="#000">17</text>
<text class="nl" x="275.4" y="232.5" font-size="8" font-weight="bold" text-anchor="middle" fill="#000">18</text>
<text class="nl" x="243.5" y="319.7" font-size="8" font-weight="bold" text-anchor="middle" fill="#000">19</text>
<text class="nl" x="255.9" y="306.4" font-size="8" font-weight="bold" text-anchor="middle" fill="#000">20</text>
<rect x="0.55" y="355.70" width="138.00" height="147.60" fill="#fff" stroke="#555" stroke-width="0.8"/>
<line x1="138.55" y1="355.70" x2="138.55" y2="503.30" stroke="#111" stroke-width="0.8"/>
<rect x="139.00" y="355.70" width="3.70" height="147.60" fill="url(#vg)" stroke="#111" stroke-width="0.7"/>
<text x="57.45" y="352.00" font-size="8.4" textLength="24.2" lengthAdjust="spacingAndGlyphs" fill="#111">Mcpt8</text>
<text transform="translate(147.75 428.00) rotate(90) scale(0.948 1)" font-size="7.6" text-anchor="middle" fill="#111">Normalized expression of Mcpt8</text>
<line x1="126.5" y1="368.2" x2="112.6" y2="384.5" stroke="#000" stroke-width="0.90"/>
<line x1="103.0" y1="384.1" x2="112.6" y2="384.5" stroke="#000" stroke-width="1.60"/>
<line x1="103.0" y1="384.1" x2="95.6" y2="399.7" stroke="#000" stroke-width="1.70"/>
<line x1="103.0" y1="384.1" x2="103.3" y2="398.7" stroke="#000" stroke-width="1.60"/>
<line x1="112.6" y1="384.5" x2="103.3" y2="398.7" stroke="#000" stroke-width="1.70"/>
<line x1="95.6" y1="399.7" x2="103.3" y2="398.7" stroke="#000" stroke-width="1.40"/>
<line x1="95.6" y1="399.7" x2="90.0" y2="412.0" stroke="#000" stroke-width="1.80"/>
<line x1="103.3" y1="398.7" x2="90.0" y2="412.0" stroke="#000" stroke-width="1.80"/>
<line x1="112.6" y1="384.5" x2="90.0" y2="412.0" stroke="#000" stroke-width="1.10"/>
<line x1="90.0" y1="412.0" x2="76.7" y2="428.6" stroke="#000" stroke-width="1.90"/>
<line x1="90.0" y1="412.0" x2="84.2" y2="427.8" stroke="#000" stroke-width="1.50"/>
<line x1="76.7" y1="428.6" x2="84.2" y2="427.8" stroke="#000" stroke-width="1.00"/>
<line x1="76.7" y1="428.6" x2="62.0" y2="439.1" stroke="#000" stroke-width="1.90"/>
<line x1="84.2" y1="427.8" x2="62.0" y2="439.1" stroke="#000" stroke-width="0.50"/>
<line x1="84.2" y1="427.8" x2="83.8" y2="472.6" stroke="#a6a6a6" stroke-width="1.10"/>
<line x1="76.7" y1="428.6" x2="71.0" y2="460.8" stroke="#000" stroke-width="1.30"/>
<line x1="62.0" y1="439.1" x2="71.0" y2="460.8" stroke="#000" stroke-width="1.30"/>
<line x1="62.0" y1="439.1" x2="55.3" y2="444.9" stroke="#000" stroke-width="1.60"/>
<line x1="55.3" y1="444.9" x2="44.5" y2="445.7" stroke="#000" stroke-width="1.60"/>
<line x1="44.5" y1="445.7" x2="36.8" y2="450.5" stroke="#000" stroke-width="1.60"/>
<line x1="36.8" y1="450.5" x2="25.8" y2="448.0" stroke="#000" stroke-width="1.00"/>
<line x1="36.8" y1="450.5" x2="32.9" y2="428.0" stroke="#000" stroke-width="0.50"/>
<line x1="36.8" y1="450.5" x2="24.2" y2="427.4" stroke="#000" stroke-width="0.80"/>
<line x1="36.8" y1="450.5" x2="22.0" y2="471.1" stroke="#000" stroke-width="1.20"/>
<line x1="25.8" y1="448.0" x2="22.0" y2="471.1" stroke="#000" stroke-width="1.60"/>
<line x1="25.8" y1="448.0" x2="32.9" y2="428.0" stroke="#000" stroke-width="1.20"/>
<line x1="32.9" y1="428.0" x2="22.0" y2="471.1" stroke="#000" stroke-width="1.30"/>
<line x1="25.8" y1="448.0" x2="24.2" y2="427.4" stroke="#000" stroke-width="0.40"/>
<line x1="24.2" y1="427.4" x2="26.5" y2="409.2" stroke="#000" stroke-width="0.40"/>
<line x1="32.9" y1="428.0" x2="26.5" y2="409.2" stroke="#000" stroke-width="1.70"/>
<line x1="32.9" y1="428.0" x2="62.0" y2="439.1" stroke="#000" stroke-width="0.45"/>
<line x1="32.9" y1="428.0" x2="44.5" y2="445.7" stroke="#000" stroke-width="0.80"/>
<line x1="55.3" y1="444.9" x2="71.0" y2="460.8" stroke="#000" stroke-width="0.50"/>
<line x1="71.0" y1="460.8" x2="71.4" y2="485.9" stroke="#000" stroke-width="2.60"/>
<line x1="71.0" y1="460.8" x2="83.8" y2="472.6" stroke="#000" stroke-width="0.60"/>
<line x1="22.0" y1="471.1" x2="12.2" y2="490.2" stroke="#000" stroke-width="1.40"/>
<line x1="26.5" y1="409.2" x2="25.8" y2="448.0" stroke="#000" stroke-width="0.35"/>
<circle cx="112.6" cy="384.5" r="4.6" fill="#440154"/>
<circle cx="84.2" cy="427.8" r="4.6" fill="#461264"/>
<circle cx="36.8" cy="450.5" r="4.5" fill="#440154"/>
<circle cx="55.3" cy="444.9" r="4.5" fill="#440154"/>
<circle cx="24.2" cy="427.4" r="4.3" fill="#440154"/>
<circle cx="25.8" cy="448.0" r="4.2" fill="#440154"/>
<circle cx="95.6" cy="399.7" r="4.1" fill="#440154"/>
<circle cx="32.9" cy="428.0" r="4.1" fill="#440154"/>
<circle cx="22.0" cy="471.1" r="4.1" fill="#440154"/>
<circle cx="76.7" cy="428.6" r="4.2" fill="#fde725"/>
<circle cx="103.0" cy="384.1" r="3.8" fill="#440154"/>
<circle cx="62.0" cy="439.1" r="3.7" fill="#306c8e"/>
<circle cx="44.5" cy="445.7" r="3.6" fill="#440154"/>
<circle cx="71.0" cy="460.8" r="3.6" fill="#461668"/>
<circle cx="26.5" cy="409.2" r="3.0" fill="#440154"/>
<circle cx="90.0" cy="412.0" r="2.9" fill="#440154"/>
<circle cx="126.5" cy="368.2" r="2.6" fill="#440154"/>
<circle cx="12.2" cy="490.2" r="3.0" fill="#440154"/>
<circle cx="103.3" cy="398.7" r="3.2" fill="#440154"/>
<circle cx="71.4" cy="485.9" r="2.8" fill="#440154"/>
<circle cx="83.8" cy="472.6" r="2.5" fill="#440154"/>
<text class="nl" x="112.6" y="387.3" font-size="8" font-weight="bold" text-anchor="middle" fill="#000">0</text>
<text class="nl" x="84.2" y="430.6" font-size="8" font-weight="bold" text-anchor="middle" fill="#000">1</text>
<text class="nl" x="36.8" y="453.3" font-size="8" font-weight="bold" text-anchor="middle" fill="#000">2</text>
<text class="nl" x="55.3" y="447.7" font-size="8" font-weight="bold" text-anchor="middle" fill="#000">3</text>
<text class="nl" x="24.2" y="430.2" font-size="8" font-weight="bold" text-anchor="middle" fill="#000">4</text>
<text class="nl" x="25.8" y="450.8" font-size="8" font-weight="bold" text-anchor="middle" fill="#000">5</text>
<text class="nl" x="95.6" y="402.5" font-size="8" font-weight="bold" text-anchor="middle" fill="#000">6</text>
<text class="nl" x="32.9" y="430.8" font-size="8" font-weight="bold" text-anchor="middle" fill="#000">7</text>
<text class="nl" x="22.0" y="473.9" font-size="8" font-weight="bold" text-anchor="middle" fill="#000">8</text>
<text class="nl" x="76.7" y="431.4" font-size="8" font-weight="bold" text-anchor="middle" fill="#000">9</text>
<text class="nl" x="103.0" y="386.9" font-size="8" font-weight="bold" text-anchor="middle" fill="#000">10</text>
<text class="nl" x="62.0" y="441.9" font-size="8" font-weight="bold" text-anchor="middle" fill="#000">11</text>
<text class="nl" x="44.5" y="448.5" font-size="8" font-weight="bold" text-anchor="middle" fill="#000">12</text>
<text class="nl" x="71.0" y="463.6" font-size="8" font-weight="bold" text-anchor="middle" fill="#000">13</text>
<text class="nl" x="26.5" y="412.0" font-size="8" font-weight="bold" text-anchor="middle" fill="#000">14</text>
<text class="nl" x="90.0" y="414.8" font-size="8" font-weight="bold" text-anchor="middle" fill="#000">15</text>
<text class="nl" x="126.5" y="371.0" font-size="8" font-weight="bold" text-anchor="middle" fill="#000">16</text>
<text class="nl" x="12.2" y="493.0" font-size="8" font-weight="bold" text-anchor="middle" fill="#000">17</text>
<text class="nl" x="103.3" y="401.5" font-size="8" font-weight="bold" text-anchor="middle" fill="#000">18</text>
<text class="nl" x="71.4" y="488.7" font-size="8" font-weight="bold" text-anchor="middle" fill="#000">19</text>
<text class="nl" x="83.8" y="475.4" font-size="8" font-weight="bold" text-anchor="middle" fill="#000">20</text>
<rect x="172.60" y="355.70" width="138.45" height="147.60" fill="#fff" stroke="#555" stroke-width="0.8"/>
<line x1="311.05" y1="355.70" x2="311.05" y2="503.30" stroke="#111" stroke-width="0.8"/>
<rect x="311.50" y="355.70" width="3.70" height="147.60" fill="url(#vg)" stroke="#111" stroke-width="0.7"/>
<text x="228.63" y="352.00" font-size="8.4" textLength="26.4" lengthAdjust="spacingAndGlyphs" fill="#111">Prss34</text>
<text transform="translate(320.25 428.00) rotate(90) scale(0.948 1)" font-size="7.6" text-anchor="middle" fill="#111">Normalized expression of Prss34</text>
<line x1="298.6" y1="368.2" x2="284.6" y2="384.5" stroke="#000" stroke-width="0.90"/>
<line x1="275.1" y1="384.1" x2="284.6" y2="384.5" stroke="#000" stroke-width="1.60"/>
<line x1="275.1" y1="384.1" x2="267.6" y2="399.7" stroke="#000" stroke-width="1.70"/>
<line x1="275.1" y1="384.1" x2="275.4" y2="398.7" stroke="#000" stroke-width="1.60"/>
<line x1="284.6" y1="384.5" x2="275.4" y2="398.7" stroke="#000" stroke-width="1.70"/>
<line x1="267.6" y1="399.7" x2="275.4" y2="398.7" stroke="#000" stroke-width="1.40"/>
<line x1="267.6" y1="399.7" x2="262.1" y2="412.0" stroke="#000" stroke-width="1.80"/>
<line x1="275.4" y1="398.7" x2="262.1" y2="412.0" stroke="#000" stroke-width="1.80"/>
<line x1="284.6" y1="384.5" x2="262.1" y2="412.0" stroke="#000" stroke-width="1.10"/>
<line x1="262.1" y1="412.0" x2="248.8" y2="428.6" stroke="#000" stroke-width="1.90"/>
<line x1="262.1" y1="412.0" x2="256.2" y2="427.8" stroke="#000" stroke-width="1.50"/>
<line x1="248.8" y1="428.6" x2="256.2" y2="427.8" stroke="#000" stroke-width="1.00"/>
<line x1="248.8" y1="428.6" x2="234.1" y2="439.1" stroke="#000" stroke-width="1.90"/>
<line x1="256.2" y1="427.8" x2="234.1" y2="439.1" stroke="#000" stroke-width="0.50"/>
<line x1="256.2" y1="427.8" x2="255.9" y2="472.6" stroke="#000" stroke-width="1.00"/>
<line x1="248.8" y1="428.6" x2="243.1" y2="460.8" stroke="#000" stroke-width="1.30"/>
<line x1="234.1" y1="439.1" x2="243.1" y2="460.8" stroke="#000" stroke-width="1.30"/>
<line x1="234.1" y1="439.1" x2="227.4" y2="444.9" stroke="#000" stroke-width="1.60"/>
<line x1="227.4" y1="444.9" x2="216.6" y2="445.7" stroke="#000" stroke-width="1.60"/>
<line x1="216.6" y1="445.7" x2="208.9" y2="450.5" stroke="#000" stroke-width="1.60"/>
<line x1="208.9" y1="450.5" x2="197.9" y2="448.0" stroke="#000" stroke-width="1.00"/>
<line x1="208.9" y1="450.5" x2="205.0" y2="428.0" stroke="#000" stroke-width="0.50"/>
<line x1="208.9" y1="450.5" x2="196.2" y2="427.4" stroke="#000" stroke-width="0.80"/>
<line x1="208.9" y1="450.5" x2="194.1" y2="471.1" stroke="#000" stroke-width="1.20"/>
<line x1="197.9" y1="448.0" x2="194.1" y2="471.1" stroke="#000" stroke-width="1.60"/>
<line x1="197.9" y1="448.0" x2="205.0" y2="428.0" stroke="#000" stroke-width="1.20"/>
<line x1="205.0" y1="428.0" x2="194.1" y2="471.1" stroke="#000" stroke-width="1.30"/>
<line x1="197.9" y1="448.0" x2="196.2" y2="427.4" stroke="#000" stroke-width="0.40"/>
<line x1="196.2" y1="427.4" x2="198.6" y2="409.2" stroke="#000" stroke-width="0.40"/>
<line x1="205.0" y1="428.0" x2="198.6" y2="409.2" stroke="#000" stroke-width="1.70"/>
<line x1="205.0" y1="428.0" x2="234.1" y2="439.1" stroke="#000" stroke-width="0.45"/>
<line x1="205.0" y1="428.0" x2="216.6" y2="445.7" stroke="#000" stroke-width="0.80"/>
<line x1="227.4" y1="444.9" x2="243.1" y2="460.8" stroke="#000" stroke-width="0.50"/>
<line x1="243.1" y1="460.8" x2="243.5" y2="485.9" stroke="#000" stroke-width="2.60"/>
<line x1="243.1" y1="460.8" x2="255.9" y2="472.6" stroke="#000" stroke-width="0.60"/>
<line x1="194.1" y1="471.1" x2="184.2" y2="490.2" stroke="#000" stroke-width="1.40"/>
<line x1="198.6" y1="409.2" x2="197.9" y2="448.0" stroke="#000" stroke-width="0.35"/>
<circle cx="284.6" cy="384.5" r="4.6" fill="#440154"/>
<circle cx="256.2" cy="427.8" r="4.6" fill="#460f61"/>
<circle cx="208.9" cy="450.5" r="4.5" fill="#440154"/>
<circle cx="227.4" cy="444.9" r="4.5" fill="#440154"/>
<circle cx="196.2" cy="427.4" r="4.3" fill="#440154"/>
<circle cx="197.9" cy="448.0" r="4.2" fill="#440154"/>
<circle cx="267.6" cy="399.7" r="4.1" fill="#440154"/>
<circle cx="205.0" cy="428.0" r="4.1" fill="#440154"/>
<circle cx="194.1" cy="471.1" r="4.1" fill="#440154"/>
<circle cx="248.8" cy="428.6" r="4.2" fill="#fde725"/>
<circle cx="275.1" cy="384.1" r="3.8" fill="#440154"/>
<circle cx="234.1" cy="439.1" r="3.7" fill="#414487"/>
<circle cx="216.6" cy="445.7" r="3.6" fill="#440154"/>
<circle cx="243.1" cy="460.8" r="3.6" fill="#461264"/>
<circle cx="198.6" cy="409.2" r="3.0" fill="#440154"/>
<circle cx="262.1" cy="412.0" r="2.9" fill="#440154"/>
<circle cx="298.6" cy="368.2" r="2.6" fill="#440154"/>
<circle cx="184.2" cy="490.2" r="3.0" fill="#440154"/>
<circle cx="275.4" cy="398.7" r="3.2" fill="#440154"/>
<circle cx="243.5" cy="485.9" r="2.8" fill="#440154"/>
<circle cx="255.9" cy="472.6" r="2.5" fill="#440154"/>
<text class="nl" x="284.6" y="387.3" font-size="8" font-weight="bold" text-anchor="middle" fill="#000">0</text>
<text class="nl" x="256.2" y="430.6" font-size="8" font-weight="bold" text-anchor="middle" fill="#000">1</text>
<text class="nl" x="208.9" y="453.3" font-size="8" font-weight="bold" text-anchor="middle" fill="#000">2</text>
<text class="nl" x="227.4" y="447.7" font-size="8" font-weight="bold" text-anchor="middle" fill="#000">3</text>
<text class="nl" x="196.2" y="430.2" font-size="8" font-weight="bold" text-anchor="middle" fill="#000">4</text>
<text class="nl" x="197.9" y="450.8" font-size="8" font-weight="bold" text-anchor="middle" fill="#000">5</text>
<text class="nl" x="267.6" y="402.5" font-size="8" font-weight="bold" text-anchor="middle" fill="#000">6</text>
<text class="nl" x="205.0" y="430.8" font-size="8" font-weight="bold" text-anchor="middle" fill="#000">7</text>
<text class="nl" x="194.1" y="473.9" font-size="8" font-weight="bold" text-anchor="middle" fill="#000">8</text>
<text class="nl" x="248.8" y="431.4" font-size="8" font-weight="bold" text-anchor="middle" fill="#000">9</text>
<text class="nl" x="275.1" y="386.9" font-size="8" font-weight="bold" text-anchor="middle" fill="#000">10</text>
<text class="nl" x="234.1" y="441.9" font-size="8" font-weight="bold" text-anchor="middle" fill="#000">11</text>
<text class="nl" x="216.6" y="448.5" font-size="8" font-weight="bold" text-anchor="middle" fill="#000">12</text>
<text class="nl" x="243.1" y="463.6" font-size="8" font-weight="bold" text-anchor="middle" fill="#000">13</text>
<text class="nl" x="198.6" y="412.0" font-size="8" font-weight="bold" text-anchor="middle" fill="#000">14</text>
<text class="nl" x="262.1" y="414.8" font-size="8" font-weight="bold" text-anchor="middle" fill="#000">15</text>
<text class="nl" x="298.6" y="371.0" font-size="8" font-weight="bold" text-anchor="middle" fill="#000">16</text>
<text class="nl" x="184.2" y="493.0" font-size="8" font-weight="bold" text-anchor="middle" fill="#000">17</text>
<text class="nl" x="275.4" y="401.5" font-size="8" font-weight="bold" text-anchor="middle" fill="#000">18</text>
<text class="nl" x="243.5" y="488.7" font-size="8" font-weight="bold" text-anchor="middle" fill="#000">19</text>
<text class="nl" x="255.9" y="475.4" font-size="8" font-weight="bold" text-anchor="middle" fill="#000">20</text>
<rect x="344.50" y="18.70" width="138.20" height="147.60" fill="#fff" stroke="#555" stroke-width="0.8"/>
<line x1="482.70" y1="18.70" x2="482.70" y2="166.30" stroke="#111" stroke-width="0.8"/>
<rect x="483.15" y="18.70" width="3.70" height="147.60" fill="url(#vg)" stroke="#111" stroke-width="0.7"/>
<text x="402.80" y="15.25" font-size="8.4" textLength="21.6" lengthAdjust="spacingAndGlyphs" fill="#111">Gata1</text>
<text transform="translate(491.90 91.00) rotate(90) scale(0.948 1)" font-size="7.6" text-anchor="middle" fill="#111">Normalized expression of Gata1</text>
<line x1="375.0" y1="41.3" x2="394.4" y2="42.4" stroke="#000" stroke-width="1.40"/>
<line x1="375.0" y1="41.3" x2="374.2" y2="62.0" stroke="#000" stroke-width="1.70"/>
<line x1="374.2" y1="62.0" x2="394.4" y2="42.4" stroke="#000" stroke-width="1.20"/>
<line x1="374.2" y1="62.0" x2="362.7" y2="82.8" stroke="#000" stroke-width="1.30"/>
<line x1="362.7" y1="82.8" x2="356.6" y2="99.2" stroke="#000" stroke-width="2.60"/>
<line x1="394.4" y1="42.4" x2="416.1" y2="31.6" stroke="#000" stroke-width="1.30"/>
<line x1="394.4" y1="42.4" x2="423.6" y2="56.4" stroke="#000" stroke-width="0.45"/>
<line x1="416.1" y1="31.6" x2="439.1" y2="38.3" stroke="#000" stroke-width="1.50"/>
<line x1="416.1" y1="31.6" x2="423.6" y2="56.4" stroke="#000" stroke-width="0.90"/>
<line x1="423.6" y1="56.4" x2="439.1" y2="38.3" stroke="#000" stroke-width="1.20"/>
<line x1="439.1" y1="38.3" x2="455.8" y2="59.3" stroke="#000" stroke-width="1.50"/>
<line x1="423.6" y1="56.4" x2="444.0" y2="80.3" stroke="#000" stroke-width="1.00"/>
<line x1="423.6" y1="56.4" x2="443.8" y2="100.7" stroke="#000" stroke-width="0.40"/>
<line x1="455.8" y1="59.3" x2="444.0" y2="80.3" stroke="#000" stroke-width="0.50"/>
<line x1="455.8" y1="59.3" x2="443.8" y2="100.7" stroke="#000" stroke-width="0.45"/>
<line x1="455.8" y1="59.3" x2="412.1" y2="106.3" stroke="#000" stroke-width="0.40"/>
<line x1="444.0" y1="80.3" x2="443.8" y2="100.7" stroke="#000" stroke-width="2.40"/>
<line x1="443.8" y1="100.7" x2="412.1" y2="106.3" stroke="#000" stroke-width="0.70"/>
<line x1="443.8" y1="100.7" x2="470.7" y2="104.5" stroke="#000" stroke-width="0.70"/>
<line x1="443.8" y1="100.7" x2="449.0" y2="141.4" stroke="#000" stroke-width="0.40"/>
<line x1="443.8" y1="100.7" x2="415.6" y2="153.1" stroke="#000" stroke-width="0.45"/>
<line x1="412.1" y1="106.3" x2="405.0" y2="134.6" stroke="#000" stroke-width="1.15"/>
<line x1="412.1" y1="106.3" x2="430.1" y2="139.8" stroke="#000" stroke-width="0.40"/>
<line x1="405.0" y1="134.6" x2="430.1" y2="139.8" stroke="#000" stroke-width="1.40"/>
<line x1="405.0" y1="134.6" x2="415.6" y2="153.1" stroke="#000" stroke-width="1.45"/>
<line x1="405.0" y1="134.6" x2="389.4" y2="150.3" stroke="#000" stroke-width="1.45"/>
<line x1="389.4" y1="150.3" x2="415.6" y2="153.1" stroke="#000" stroke-width="0.60"/>
<line x1="415.6" y1="153.1" x2="430.1" y2="139.8" stroke="#000" stroke-width="1.00"/>
<line x1="415.6" y1="153.1" x2="449.0" y2="141.4" stroke="#000" stroke-width="0.45"/>
<line x1="430.1" y1="139.8" x2="449.0" y2="141.4" stroke="#000" stroke-width="1.55"/>
<line x1="455.8" y1="59.3" x2="443.8" y2="100.7" stroke="#000" stroke-width="0.40"/>
<circle cx="375.0" cy="41.3" r="3.7" fill="#440154"/>
<circle cx="394.4" cy="42.4" r="3.7" fill="#440154"/>
<circle cx="416.1" cy="31.6" r="4.0" fill="#440154"/>
<circle cx="439.1" cy="38.3" r="4.0" fill="#440154"/>
<circle cx="455.8" cy="59.3" r="4.0" fill="#440154"/>
<circle cx="423.6" cy="56.4" r="2.7" fill="#440154"/>
<circle cx="374.2" cy="62.0" r="3.5" fill="#440154"/>
<circle cx="362.7" cy="82.8" r="3.0" fill="#440154"/>
<circle cx="356.6" cy="99.2" r="3.0" fill="#440154"/>
<circle cx="444.0" cy="80.3" r="3.4" fill="#306c8e"/>
<circle cx="443.8" cy="100.7" r="4.4" fill="#27808d"/>
<circle cx="412.1" cy="106.3" r="4.0" fill="#36b678"/>
<circle cx="470.7" cy="104.5" r="2.3" fill="#440154"/>
<circle cx="363.4" cy="131.4" r="2.4" fill="#440154"/>
<circle cx="405.0" cy="134.6" r="4.0" fill="#8ed544"/>
<circle cx="430.1" cy="139.8" r="4.0" fill="#a2d937"/>
<circle cx="449.0" cy="141.4" r="4.0" fill="#bddf26"/>
<circle cx="389.4" cy="150.3" r="4.0" fill="#6fcd57"/>
<circle cx="415.6" cy="153.1" r="4.0" fill="#fde725"/>
<text class="nl" x="375.0" y="42.6" font-size="8" font-weight="bold" text-anchor="middle" fill="#000">g</text>
<text class="nl" x="394.4" y="43.8" font-size="8" font-weight="bold" text-anchor="middle" fill="#000">j</text>
<text class="nl" x="416.1" y="34.4" font-size="8" font-weight="bold" text-anchor="middle" fill="#000">b</text>
<text class="nl" x="439.1" y="41.1" font-size="8" font-weight="bold" text-anchor="middle" fill="#000">k</text>
<text class="nl" x="455.8" y="62.1" font-size="8" font-weight="bold" text-anchor="middle" fill="#000">h</text>
<text class="nl" x="423.6" y="57.8" font-size="8" font-weight="bold" text-anchor="middle" fill="#000">q</text>
<text class="nl" x="374.2" y="64.2" font-size="8" font-weight="bold" text-anchor="middle" fill="#000">m</text>
<text class="nl" x="362.7" y="85.0" font-size="8" font-weight="bold" text-anchor="middle" fill="#000">o</text>
<text class="nl" x="356.6" y="100.5" font-size="8" font-weight="bold" text-anchor="middle" fill="#000">p</text>
<text class="nl" x="444.0" y="82.5" font-size="8" font-weight="bold" text-anchor="middle" fill="#000">n</text>
<text class="nl" x="443.8" y="102.9" font-size="8" font-weight="bold" text-anchor="middle" fill="#000">a</text>
<text class="nl" x="412.1" y="108.5" font-size="8" font-weight="bold" text-anchor="middle" fill="#000">c</text>
<text class="nl" x="470.7" y="105.7" font-size="4.5" font-weight="bold" text-anchor="middle" fill="#000">r</text>
<text class="nl" x="363.4" y="132.6" font-size="4.5" font-weight="bold" text-anchor="middle" fill="#000">s</text>
<text class="nl" x="405.0" y="137.4" font-size="8" font-weight="bold" text-anchor="middle" fill="#000">d</text>
<text class="nl" x="430.1" y="142.6" font-size="8" font-weight="bold" text-anchor="middle" fill="#000">l</text>
<text class="nl" x="449.0" y="144.2" font-size="8" font-weight="bold" text-anchor="middle" fill="#000">i</text>
<text class="nl" x="389.4" y="153.1" font-size="8" font-weight="bold" text-anchor="middle" fill="#000">f</text>
<text class="nl" x="415.6" y="155.3" font-size="8" font-weight="bold" text-anchor="middle" fill="#000">e</text>
<rect x="517.40" y="18.70" width="138.20" height="147.60" fill="#fff" stroke="#555" stroke-width="0.8"/>
<line x1="655.60" y1="18.70" x2="655.60" y2="166.30" stroke="#111" stroke-width="0.8"/>
<rect x="656.05" y="18.70" width="3.70" height="147.60" fill="url(#vg)" stroke="#111" stroke-width="0.7"/>
<text x="579.65" y="15.25" font-size="8.4" textLength="13.7" lengthAdjust="spacingAndGlyphs" fill="#111">Klf1</text>
<text transform="translate(664.80 91.00) rotate(90) scale(0.948 1)" font-size="7.6" text-anchor="middle" fill="#111">Normalized expression of Klf1</text>
<line x1="547.5" y1="41.6" x2="566.8" y2="42.7" stroke="#000" stroke-width="1.40"/>
<line x1="547.5" y1="41.6" x2="546.6" y2="62.3" stroke="#000" stroke-width="1.70"/>
<line x1="546.6" y1="62.3" x2="566.8" y2="42.7" stroke="#000" stroke-width="1.20"/>
<line x1="546.6" y1="62.3" x2="535.1" y2="83.1" stroke="#000" stroke-width="1.30"/>
<line x1="535.1" y1="83.1" x2="529.0" y2="99.5" stroke="#000" stroke-width="2.60"/>
<line x1="566.8" y1="42.7" x2="588.5" y2="31.9" stroke="#000" stroke-width="1.30"/>
<line x1="566.8" y1="42.7" x2="596.0" y2="56.7" stroke="#000" stroke-width="0.45"/>
<line x1="588.5" y1="31.9" x2="611.5" y2="38.6" stroke="#000" stroke-width="1.50"/>
<line x1="588.5" y1="31.9" x2="596.0" y2="56.7" stroke="#000" stroke-width="0.90"/>
<line x1="596.0" y1="56.7" x2="611.5" y2="38.6" stroke="#000" stroke-width="1.20"/>
<line x1="611.5" y1="38.6" x2="628.2" y2="59.6" stroke="#000" stroke-width="1.50"/>
<line x1="596.0" y1="56.7" x2="616.5" y2="80.6" stroke="#000" stroke-width="1.00"/>
<line x1="596.0" y1="56.7" x2="616.2" y2="101.0" stroke="#000" stroke-width="0.40"/>
<line x1="628.2" y1="59.6" x2="616.5" y2="80.6" stroke="#000" stroke-width="0.50"/>
<line x1="628.2" y1="59.6" x2="616.2" y2="101.0" stroke="#000" stroke-width="0.45"/>
<line x1="628.2" y1="59.6" x2="584.5" y2="106.6" stroke="#000" stroke-width="0.40"/>
<line x1="616.5" y1="80.6" x2="616.2" y2="101.0" stroke="#000" stroke-width="2.40"/>
<line x1="616.2" y1="101.0" x2="584.5" y2="106.6" stroke="#000" stroke-width="0.70"/>
<line x1="616.2" y1="101.0" x2="643.1" y2="104.8" stroke="#000" stroke-width="0.70"/>
<line x1="616.2" y1="101.0" x2="621.5" y2="141.7" stroke="#000" stroke-width="0.40"/>
<line x1="616.2" y1="101.0" x2="588.0" y2="153.4" stroke="#000" stroke-width="0.45"/>
<line x1="584.5" y1="106.6" x2="577.5" y2="134.9" stroke="#000" stroke-width="1.15"/>
<line x1="584.5" y1="106.6" x2="602.5" y2="140.1" stroke="#000" stroke-width="0.40"/>
<line x1="577.5" y1="134.9" x2="602.5" y2="140.1" stroke="#000" stroke-width="1.40"/>
<line x1="577.5" y1="134.9" x2="588.0" y2="153.4" stroke="#000" stroke-width="1.45"/>
<line x1="577.5" y1="134.9" x2="561.8" y2="150.6" stroke="#000" stroke-width="1.45"/>
<line x1="561.8" y1="150.6" x2="588.0" y2="153.4" stroke="#000" stroke-width="0.60"/>
<line x1="588.0" y1="153.4" x2="602.5" y2="140.1" stroke="#000" stroke-width="1.00"/>
<line x1="588.0" y1="153.4" x2="621.5" y2="141.7" stroke="#000" stroke-width="0.45"/>
<line x1="602.5" y1="140.1" x2="621.5" y2="141.7" stroke="#000" stroke-width="1.55"/>
<line x1="628.2" y1="59.6" x2="616.2" y2="101.0" stroke="#000" stroke-width="0.40"/>
<circle cx="547.5" cy="41.6" r="3.7" fill="#440154"/>
<circle cx="566.8" cy="42.7" r="3.7" fill="#440154"/>
<circle cx="588.5" cy="31.9" r="4.0" fill="#440154"/>
<circle cx="611.5" cy="38.6" r="4.0" fill="#440154"/>
<circle cx="628.2" cy="59.6" r="4.0" fill="#440154"/>
<circle cx="596.0" cy="56.7" r="2.7" fill="#440154"/>
<circle cx="546.6" cy="62.3" r="3.5" fill="#440154"/>
<circle cx="535.1" cy="83.1" r="3.0" fill="#440154"/>
<circle cx="529.0" cy="99.5" r="3.0" fill="#440154"/>
<circle cx="616.5" cy="80.6" r="3.4" fill="#440154"/>
<circle cx="616.2" cy="101.0" r="4.4" fill="#414487"/>
<circle cx="584.5" cy="106.6" r="4.0" fill="#27808d"/>
<circle cx="643.1" cy="104.8" r="2.3" fill="#440154"/>
<circle cx="535.8" cy="131.7" r="2.4" fill="#440154"/>
<circle cx="577.5" cy="134.9" r="4.0" fill="#5fc860"/>
<circle cx="602.5" cy="140.1" r="4.0" fill="#7ad151"/>
<circle cx="621.5" cy="141.7" r="4.0" fill="#fde725"/>
<circle cx="561.8" cy="150.6" r="4.0" fill="#6fcd57"/>
<circle cx="588.0" cy="153.4" r="4.0" fill="#eae525"/>
<text class="nl" x="547.5" y="42.9" font-size="8" font-weight="bold" text-anchor="middle" fill="#000">g</text>
<text class="nl" x="566.8" y="44.0" font-size="8" font-weight="bold" text-anchor="middle" fill="#000">j</text>
<text class="nl" x="588.5" y="34.7" font-size="8" font-weight="bold" text-anchor="middle" fill="#000">b</text>
<text class="nl" x="611.5" y="41.4" font-size="8" font-weight="bold" text-anchor="middle" fill="#000">k</text>
<text class="nl" x="628.2" y="62.4" font-size="8" font-weight="bold" text-anchor="middle" fill="#000">h</text>
<text class="nl" x="596.0" y="58.0" font-size="8" font-weight="bold" text-anchor="middle" fill="#000">q</text>
<text class="nl" x="546.6" y="64.5" font-size="8" font-weight="bold" text-anchor="middle" fill="#000">m</text>
<text class="nl" x="535.1" y="85.3" font-size="8" font-weight="bold" text-anchor="middle" fill="#000">o</text>
<text class="nl" x="529.0" y="100.8" font-size="8" font-weight="bold" text-anchor="middle" fill="#000">p</text>
<text class="nl" x="616.5" y="82.8" font-size="8" font-weight="bold" text-anchor="middle" fill="#000">n</text>
<text class="nl" x="616.2" y="103.2" font-size="8" font-weight="bold" text-anchor="middle" fill="#000">a</text>
<text class="nl" x="584.5" y="108.8" font-size="8" font-weight="bold" text-anchor="middle" fill="#000">c</text>
<text class="nl" x="643.1" y="106.0" font-size="4.5" font-weight="bold" text-anchor="middle" fill="#000">r</text>
<text class="nl" x="535.8" y="132.9" font-size="4.5" font-weight="bold" text-anchor="middle" fill="#000">s</text>
<text class="nl" x="577.5" y="137.7" font-size="8" font-weight="bold" text-anchor="middle" fill="#000">d</text>
<text class="nl" x="602.5" y="142.9" font-size="8" font-weight="bold" text-anchor="middle" fill="#000">l</text>
<text class="nl" x="621.5" y="144.5" font-size="8" font-weight="bold" text-anchor="middle" fill="#000">i</text>
<text class="nl" x="561.8" y="153.4" font-size="8" font-weight="bold" text-anchor="middle" fill="#000">f</text>
<text class="nl" x="588.0" y="155.6" font-size="8" font-weight="bold" text-anchor="middle" fill="#000">e</text>
<rect x="344.50" y="187.30" width="138.20" height="147.60" fill="#fff" stroke="#555" stroke-width="0.8"/>
<line x1="482.70" y1="187.30" x2="482.70" y2="334.90" stroke="#111" stroke-width="0.8"/>
<rect x="483.15" y="187.30" width="3.70" height="147.60" fill="url(#vg)" stroke="#111" stroke-width="0.7"/>
<text x="404.80" y="183.40" font-size="8.4" textLength="17.6" lengthAdjust="spacingAndGlyphs" fill="#111">Ctsg</text>
<text transform="translate(491.90 259.60) rotate(90) scale(0.948 1)" font-size="7.6" text-anchor="middle" fill="#111">Normalized expression of Ctsg</text>
<line x1="375.0" y1="209.4" x2="394.4" y2="210.5" stroke="#000" stroke-width="1.40"/>
<line x1="375.0" y1="209.4" x2="374.2" y2="230.1" stroke="#000" stroke-width="1.70"/>
<line x1="374.2" y1="230.1" x2="394.4" y2="210.5" stroke="#000" stroke-width="1.20"/>
<line x1="374.2" y1="230.1" x2="362.7" y2="250.9" stroke="#000" stroke-width="1.30"/>
<line x1="362.7" y1="250.9" x2="356.6" y2="267.3" stroke="#000" stroke-width="2.60"/>
<line x1="394.4" y1="210.5" x2="416.1" y2="199.7" stroke="#000" stroke-width="1.30"/>
<line x1="394.4" y1="210.5" x2="423.6" y2="224.5" stroke="#000" stroke-width="0.45"/>
<line x1="416.1" y1="199.7" x2="439.1" y2="206.4" stroke="#000" stroke-width="1.50"/>
<line x1="416.1" y1="199.7" x2="423.6" y2="224.5" stroke="#000" stroke-width="0.90"/>
<line x1="423.6" y1="224.5" x2="439.1" y2="206.4" stroke="#000" stroke-width="1.20"/>
<line x1="439.1" y1="206.4" x2="455.8" y2="227.4" stroke="#000" stroke-width="1.50"/>
<line x1="423.6" y1="224.5" x2="444.0" y2="248.4" stroke="#000" stroke-width="1.00"/>
<line x1="423.6" y1="224.5" x2="443.8" y2="268.8" stroke="#000" stroke-width="0.40"/>
<line x1="455.8" y1="227.4" x2="444.0" y2="248.4" stroke="#000" stroke-width="0.50"/>
<line x1="455.8" y1="227.4" x2="443.8" y2="268.8" stroke="#000" stroke-width="0.45"/>
<line x1="455.8" y1="227.4" x2="412.1" y2="274.4" stroke="#000" stroke-width="0.40"/>
<line x1="444.0" y1="248.4" x2="443.8" y2="268.8" stroke="#000" stroke-width="2.40"/>
<line x1="443.8" y1="268.8" x2="412.1" y2="274.4" stroke="#000" stroke-width="0.70"/>
<line x1="443.8" y1="268.8" x2="470.7" y2="272.6" stroke="#000" stroke-width="0.70"/>
<line x1="443.8" y1="268.8" x2="449.0" y2="309.5" stroke="#000" stroke-width="0.40"/>
<line x1="443.8" y1="268.8" x2="415.6" y2="321.2" stroke="#000" stroke-width="0.45"/>
<line x1="412.1" y1="274.4" x2="405.0" y2="302.7" stroke="#000" stroke-width="1.15"/>
<line x1="412.1" y1="274.4" x2="430.1" y2="307.9" stroke="#000" stroke-width="0.40"/>
<line x1="405.0" y1="302.7" x2="430.1" y2="307.9" stroke="#000" stroke-width="1.40"/>
<line x1="405.0" y1="302.7" x2="415.6" y2="321.2" stroke="#000" stroke-width="1.45"/>
<line x1="405.0" y1="302.7" x2="389.4" y2="318.4" stroke="#000" stroke-width="1.45"/>
<line x1="389.4" y1="318.4" x2="415.6" y2="321.2" stroke="#000" stroke-width="0.60"/>
<line x1="415.6" y1="321.2" x2="430.1" y2="307.9" stroke="#000" stroke-width="1.00"/>
<line x1="415.6" y1="321.2" x2="449.0" y2="309.5" stroke="#000" stroke-width="0.45"/>
<line x1="430.1" y1="307.9" x2="449.0" y2="309.5" stroke="#000" stroke-width="1.55"/>
<line x1="455.8" y1="227.4" x2="443.8" y2="268.8" stroke="#000" stroke-width="0.40"/>
<circle cx="375.0" cy="209.4" r="3.7" fill="#3dba74"/>
<circle cx="394.4" cy="210.5" r="3.7" fill="#36b678"/>
<circle cx="416.1" cy="199.7" r="4.0" fill="#22a386"/>
<circle cx="439.1" cy="206.4" r="4.0" fill="#2d708e"/>
<circle cx="455.8" cy="227.4" r="4.0" fill="#433a82"/>
<circle cx="423.6" cy="224.5" r="2.7" fill="#33648d"/>
<circle cx="374.2" cy="230.1" r="3.5" fill="#87d448"/>
<circle cx="362.7" cy="250.9" r="3.0" fill="#e3e425"/>
<circle cx="356.6" cy="267.3" r="3.0" fill="#fde725"/>
<circle cx="444.0" cy="248.4" r="3.4" fill="#3f4988"/>
<circle cx="443.8" cy="268.8" r="4.4" fill="#440457"/>
<circle cx="412.1" cy="274.4" r="4.0" fill="#440154"/>
<circle cx="470.7" cy="272.6" r="2.3" fill="#440154"/>
<circle cx="363.4" cy="299.5" r="2.4" fill="#440154"/>
<circle cx="405.0" cy="302.7" r="4.0" fill="#440154"/>
<circle cx="430.1" cy="307.9" r="4.0" fill="#440154"/>
<circle cx="449.0" cy="309.5" r="4.0" fill="#440154"/>
<circle cx="389.4" cy="318.4" r="4.0" fill="#440154"/>
<circle cx="415.6" cy="321.2" r="4.0" fill="#440154"/>
<text class="nl" x="375.0" y="210.7" font-size="8" font-weight="bold" text-anchor="middle" fill="#000">g</text>
<text class="nl" x="394.4" y="211.8" font-size="8" font-weight="bold" text-anchor="middle" fill="#000">j</text>
<text class="nl" x="416.1" y="202.5" font-size="8" font-weight="bold" text-anchor="middle" fill="#000">b</text>
<text class="nl" x="439.1" y="209.2" font-size="8" font-weight="bold" text-anchor="middle" fill="#000">k</text>
<text class="nl" x="455.8" y="230.2" font-size="8" font-weight="bold" text-anchor="middle" fill="#000">h</text>
<text class="nl" x="423.6" y="225.8" font-size="8" font-weight="bold" text-anchor="middle" fill="#000">q</text>
<text class="nl" x="374.2" y="232.3" font-size="8" font-weight="bold" text-anchor="middle" fill="#000">m</text>
<text class="nl" x="362.7" y="253.1" font-size="8" font-weight="bold" text-anchor="middle" fill="#000">o</text>
<text class="nl" x="356.6" y="268.7" font-size="8" font-weight="bold" text-anchor="middle" fill="#000">p</text>
<text class="nl" x="444.0" y="250.6" font-size="8" font-weight="bold" text-anchor="middle" fill="#000">n</text>
<text class="nl" x="443.8" y="271.0" font-size="8" font-weight="bold" text-anchor="middle" fill="#000">a</text>
<text class="nl" x="412.1" y="276.6" font-size="8" font-weight="bold" text-anchor="middle" fill="#000">c</text>
<text class="nl" x="470.7" y="273.8" font-size="4.5" font-weight="bold" text-anchor="middle" fill="#000">r</text>
<text class="nl" x="363.4" y="300.7" font-size="4.5" font-weight="bold" text-anchor="middle" fill="#000">s</text>
<text class="nl" x="405.0" y="305.5" font-size="8" font-weight="bold" text-anchor="middle" fill="#000">d</text>
<text class="nl" x="430.1" y="310.7" font-size="8" font-weight="bold" text-anchor="middle" fill="#000">l</text>
<text class="nl" x="449.0" y="312.3" font-size="8" font-weight="bold" text-anchor="middle" fill="#000">i</text>
<text class="nl" x="389.4" y="321.2" font-size="8" font-weight="bold" text-anchor="middle" fill="#000">f</text>
<text class="nl" x="415.6" y="323.4" font-size="8" font-weight="bold" text-anchor="middle" fill="#000">e</text>
<rect x="517.40" y="187.30" width="138.20" height="147.60" fill="#fff" stroke="#555" stroke-width="0.8"/>
<line x1="655.60" y1="187.30" x2="655.60" y2="334.90" stroke="#111" stroke-width="0.8"/>
<rect x="656.05" y="187.30" width="3.70" height="147.60" fill="url(#vg)" stroke="#111" stroke-width="0.7"/>
<text x="578.20" y="183.40" font-size="8.4" textLength="16.6" lengthAdjust="spacingAndGlyphs" fill="#111">Mpo</text>
<text transform="translate(664.80 259.60) rotate(90) scale(0.948 1)" font-size="7.6" text-anchor="middle" fill="#111">Normalized expression of Mpo</text>
<line x1="547.5" y1="209.7" x2="566.8" y2="210.8" stroke="#000" stroke-width="1.40"/>
<line x1="547.5" y1="209.7" x2="546.6" y2="230.4" stroke="#000" stroke-width="1.70"/>
<line x1="546.6" y1="230.4" x2="566.8" y2="210.8" stroke="#000" stroke-width="1.20"/>
<line x1="546.6" y1="230.4" x2="535.1" y2="251.2" stroke="#000" stroke-width="1.30"/>
<line x1="535.1" y1="251.2" x2="529.0" y2="267.6" stroke="#000" stroke-width="2.60"/>
<line x1="566.8" y1="210.8" x2="588.5" y2="200.0" stroke="#000" stroke-width="1.30"/>
<line x1="566.8" y1="210.8" x2="596.0" y2="224.8" stroke="#000" stroke-width="0.45"/>
<line x1="588.5" y1="200.0" x2="611.5" y2="206.7" stroke="#000" stroke-width="1.50"/>
<line x1="588.5" y1="200.0" x2="596.0" y2="224.8" stroke="#000" stroke-width="0.90"/>
<line x1="596.0" y1="224.8" x2="611.5" y2="206.7" stroke="#000" stroke-width="1.20"/>
<line x1="611.5" y1="206.7" x2="628.2" y2="227.7" stroke="#000" stroke-width="1.50"/>
<line x1="596.0" y1="224.8" x2="616.5" y2="248.7" stroke="#000" stroke-width="1.00"/>
<line x1="596.0" y1="224.8" x2="616.2" y2="269.1" stroke="#000" stroke-width="0.40"/>
<line x1="628.2" y1="227.7" x2="616.5" y2="248.7" stroke="#000" stroke-width="0.50"/>
<line x1="628.2" y1="227.7" x2="616.2" y2="269.1" stroke="#000" stroke-width="0.45"/>
<line x1="628.2" y1="227.7" x2="584.5" y2="274.7" stroke="#000" stroke-width="0.40"/>
<line x1="616.5" y1="248.7" x2="616.2" y2="269.1" stroke="#000" stroke-width="2.40"/>
<line x1="616.2" y1="269.1" x2="584.5" y2="274.7" stroke="#000" stroke-width="0.70"/>
<line x1="616.2" y1="269.1" x2="643.1" y2="272.9" stroke="#000" stroke-width="0.70"/>
<line x1="616.2" y1="269.1" x2="621.5" y2="309.8" stroke="#000" stroke-width="0.40"/>
<line x1="616.2" y1="269.1" x2="588.0" y2="321.5" stroke="#000" stroke-width="0.45"/>
<line x1="584.5" y1="274.7" x2="577.5" y2="303.0" stroke="#000" stroke-width="1.15"/>
<line x1="584.5" y1="274.7" x2="602.5" y2="308.2" stroke="#000" stroke-width="0.40"/>
<line x1="577.5" y1="303.0" x2="602.5" y2="308.2" stroke="#000" stroke-width="1.40"/>
<line x1="577.5" y1="303.0" x2="588.0" y2="321.5" stroke="#000" stroke-width="1.45"/>
<line x1="577.5" y1="303.0" x2="561.8" y2="318.7" stroke="#000" stroke-width="1.45"/>
<line x1="561.8" y1="318.7" x2="588.0" y2="321.5" stroke="#000" stroke-width="0.60"/>
<line x1="588.0" y1="321.5" x2="602.5" y2="308.2" stroke="#000" stroke-width="1.00"/>
<line x1="588.0" y1="321.5" x2="621.5" y2="309.8" stroke="#000" stroke-width="0.45"/>
<line x1="602.5" y1="308.2" x2="621.5" y2="309.8" stroke="#000" stroke-width="1.55"/>
<line x1="628.2" y1="227.7" x2="616.2" y2="269.1" stroke="#000" stroke-width="0.40"/>
<circle cx="547.5" cy="209.7" r="3.7" fill="#bddf26"/>
<circle cx="566.8" cy="210.8" r="3.7" fill="#3dba74"/>
<circle cx="588.5" cy="200.0" r="4.0" fill="#29ad80"/>
<circle cx="611.5" cy="206.7" r="4.0" fill="#287d8e"/>
<circle cx="628.2" cy="227.7" r="4.0" fill="#433a82"/>
<circle cx="596.0" cy="224.8" r="2.7" fill="#30b17c"/>
<circle cx="546.6" cy="230.4" r="3.5" fill="#6acc5a"/>
<circle cx="535.1" cy="251.2" r="3.0" fill="#f0e525"/>
<circle cx="529.0" cy="267.6" r="3.0" fill="#fde725"/>
<circle cx="616.5" cy="248.7" r="3.4" fill="#414487"/>
<circle cx="616.2" cy="269.1" r="4.4" fill="#461668"/>
<circle cx="584.5" cy="274.7" r="4.0" fill="#461264"/>
<circle cx="643.1" cy="272.9" r="2.3" fill="#440154"/>
<circle cx="535.8" cy="299.8" r="2.4" fill="#440154"/>
<circle cx="577.5" cy="303.0" r="4.0" fill="#440154"/>
<circle cx="602.5" cy="308.2" r="4.0" fill="#440154"/>
<circle cx="621.5" cy="309.8" r="4.0" fill="#440154"/>
<circle cx="561.8" cy="318.7" r="4.0" fill="#440154"/>
<circle cx="588.0" cy="321.5" r="4.0" fill="#440154"/>
<text class="nl" x="547.5" y="211.0" font-size="8" font-weight="bold" text-anchor="middle" fill="#000">g</text>
<text class="nl" x="566.8" y="212.2" font-size="8" font-weight="bold" text-anchor="middle" fill="#000">j</text>
<text class="nl" x="588.5" y="202.8" font-size="8" font-weight="bold" text-anchor="middle" fill="#000">b</text>
<text class="nl" x="611.5" y="209.5" font-size="8" font-weight="bold" text-anchor="middle" fill="#000">k</text>
<text class="nl" x="628.2" y="230.5" font-size="8" font-weight="bold" text-anchor="middle" fill="#000">h</text>
<text class="nl" x="596.0" y="226.2" font-size="8" font-weight="bold" text-anchor="middle" fill="#000">q</text>
<text class="nl" x="546.6" y="232.6" font-size="8" font-weight="bold" text-anchor="middle" fill="#000">m</text>
<text class="nl" x="535.1" y="253.4" font-size="8" font-weight="bold" text-anchor="middle" fill="#000">o</text>
<text class="nl" x="529.0" y="269.0" font-size="8" font-weight="bold" text-anchor="middle" fill="#000">p</text>
<text class="nl" x="616.5" y="250.9" font-size="8" font-weight="bold" text-anchor="middle" fill="#000">n</text>
<text class="nl" x="616.2" y="271.3" font-size="8" font-weight="bold" text-anchor="middle" fill="#000">a</text>
<text class="nl" x="584.5" y="276.9" font-size="8" font-weight="bold" text-anchor="middle" fill="#000">c</text>
<text class="nl" x="643.1" y="274.1" font-size="4.5" font-weight="bold" text-anchor="middle" fill="#000">r</text>
<text class="nl" x="535.8" y="301.0" font-size="4.5" font-weight="bold" text-anchor="middle" fill="#000">s</text>
<text class="nl" x="577.5" y="305.8" font-size="8" font-weight="bold" text-anchor="middle" fill="#000">d</text>
<text class="nl" x="602.5" y="311.0" font-size="8" font-weight="bold" text-anchor="middle" fill="#000">l</text>
<text class="nl" x="621.5" y="312.6" font-size="8" font-weight="bold" text-anchor="middle" fill="#000">i</text>
<text class="nl" x="561.8" y="321.5" font-size="8" font-weight="bold" text-anchor="middle" fill="#000">f</text>
<text class="nl" x="588.0" y="323.7" font-size="8" font-weight="bold" text-anchor="middle" fill="#000">e</text>
<rect x="344.50" y="355.70" width="138.20" height="147.60" fill="#fff" stroke="#555" stroke-width="0.8"/>
<line x1="482.70" y1="355.70" x2="482.70" y2="503.30" stroke="#111" stroke-width="0.8"/>
<rect x="483.15" y="355.70" width="3.70" height="147.60" fill="url(#vg)" stroke="#111" stroke-width="0.7"/>
<text x="401.50" y="352.00" font-size="8.4" textLength="24.2" lengthAdjust="spacingAndGlyphs" fill="#111">Mcpt8</text>
<text transform="translate(491.90 428.00) rotate(90) scale(0.948 1)" font-size="7.6" text-anchor="middle" fill="#111">Normalized expression of Mcpt8</text>
<line x1="375.0" y1="378.4" x2="394.4" y2="379.5" stroke="#000" stroke-width="1.40"/>
<line x1="375.0" y1="378.4" x2="374.2" y2="399.1" stroke="#000" stroke-width="1.70"/>
<line x1="374.2" y1="399.1" x2="394.4" y2="379.5" stroke="#000" stroke-width="1.20"/>
<line x1="374.2" y1="399.1" x2="362.7" y2="419.9" stroke="#000" stroke-width="1.30"/>
<line x1="362.7" y1="419.9" x2="356.6" y2="436.3" stroke="#000" stroke-width="2.60"/>
<line x1="394.4" y1="379.5" x2="416.1" y2="368.7" stroke="#000" stroke-width="1.30"/>
<line x1="394.4" y1="379.5" x2="423.6" y2="393.5" stroke="#000" stroke-width="0.45"/>
<line x1="416.1" y1="368.7" x2="439.1" y2="375.4" stroke="#000" stroke-width="1.50"/>
<line x1="416.1" y1="368.7" x2="423.6" y2="393.5" stroke="#000" stroke-width="0.90"/>
<line x1="423.6" y1="393.5" x2="439.1" y2="375.4" stroke="#000" stroke-width="1.20"/>
<line x1="439.1" y1="375.4" x2="455.8" y2="396.4" stroke="#000" stroke-width="1.50"/>
<line x1="423.6" y1="393.5" x2="444.0" y2="417.4" stroke="#000" stroke-width="1.00"/>
<line x1="423.6" y1="393.5" x2="443.8" y2="437.8" stroke="#000" stroke-width="0.40"/>
<line x1="455.8" y1="396.4" x2="444.0" y2="417.4" stroke="#000" stroke-width="0.50"/>
<line x1="455.8" y1="396.4" x2="443.8" y2="437.8" stroke="#000" stroke-width="0.45"/>
<line x1="455.8" y1="396.4" x2="412.1" y2="443.4" stroke="#000" stroke-width="0.40"/>
<line x1="444.0" y1="417.4" x2="443.8" y2="437.8" stroke="#000" stroke-width="2.40"/>
<line x1="443.8" y1="437.8" x2="412.1" y2="443.4" stroke="#000" stroke-width="0.70"/>
<line x1="443.8" y1="437.8" x2="470.7" y2="441.6" stroke="#000" stroke-width="0.70"/>
<line x1="443.8" y1="437.8" x2="449.0" y2="478.5" stroke="#000" stroke-width="0.40"/>
<line x1="443.8" y1="437.8" x2="415.6" y2="490.2" stroke="#000" stroke-width="0.45"/>
<line x1="412.1" y1="443.4" x2="405.0" y2="471.7" stroke="#000" stroke-width="1.15"/>
<line x1="412.1" y1="443.4" x2="430.1" y2="476.9" stroke="#000" stroke-width="0.40"/>
<line x1="405.0" y1="471.7" x2="430.1" y2="476.9" stroke="#000" stroke-width="1.40"/>
<line x1="405.0" y1="471.7" x2="415.6" y2="490.2" stroke="#000" stroke-width="1.45"/>
<line x1="405.0" y1="471.7" x2="389.4" y2="487.4" stroke="#000" stroke-width="1.45"/>
<line x1="389.4" y1="487.4" x2="415.6" y2="490.2" stroke="#000" stroke-width="0.60"/>
<line x1="415.6" y1="490.2" x2="430.1" y2="476.9" stroke="#000" stroke-width="1.00"/>
<line x1="415.6" y1="490.2" x2="449.0" y2="478.5" stroke="#000" stroke-width="0.45"/>
<line x1="430.1" y1="476.9" x2="449.0" y2="478.5" stroke="#000" stroke-width="1.55"/>
<line x1="455.8" y1="396.4" x2="443.8" y2="437.8" stroke="#000" stroke-width="0.40"/>
<circle cx="375.0" cy="378.4" r="3.7" fill="#440154"/>
<circle cx="394.4" cy="379.5" r="3.7" fill="#440154"/>
<circle cx="416.1" cy="368.7" r="4.0" fill="#440154"/>
<circle cx="439.1" cy="375.4" r="4.0" fill="#440154"/>
<circle cx="455.8" cy="396.4" r="4.0" fill="#440154"/>
<circle cx="423.6" cy="393.5" r="2.7" fill="#26848d"/>
<circle cx="374.2" cy="399.1" r="3.5" fill="#440154"/>
<circle cx="362.7" cy="419.9" r="3.0" fill="#440154"/>
<circle cx="356.6" cy="436.3" r="3.0" fill="#440154"/>
<circle cx="444.0" cy="417.4" r="3.4" fill="#fde725"/>
<circle cx="443.8" cy="437.8" r="4.4" fill="#440154"/>
<circle cx="412.1" cy="443.4" r="4.0" fill="#440154"/>
<circle cx="470.7" cy="441.6" r="2.3" fill="#440154"/>
<circle cx="363.4" cy="468.5" r="2.4" fill="#440154"/>
<circle cx="405.0" cy="471.7" r="4.0" fill="#440154"/>
<circle cx="430.1" cy="476.9" r="4.0" fill="#440154"/>
<circle cx="449.0" cy="478.5" r="4.0" fill="#440154"/>
<circle cx="389.4" cy="487.4" r="4.0" fill="#440154"/>
<circle cx="415.6" cy="490.2" r="4.0" fill="#440154"/>
<text class="nl" x="375.0" y="379.8" font-size="8" font-weight="bold" text-anchor="middle" fill="#000">g</text>
<text class="nl" x="394.4" y="380.9" font-size="8" font-weight="bold" text-anchor="middle" fill="#000">j</text>
<text class="nl" x="416.1" y="371.5" font-size="8" font-weight="bold" text-anchor="middle" fill="#000">b</text>
<text class="nl" x="439.1" y="378.2" font-size="8" font-weight="bold" text-anchor="middle" fill="#000">k</text>
<text class="nl" x="455.8" y="399.2" font-size="8" font-weight="bold" text-anchor="middle" fill="#000">h</text>
<text class="nl" x="423.6" y="394.9" font-size="8" font-weight="bold" text-anchor="middle" fill="#000">q</text>
<text class="nl" x="374.2" y="401.3" font-size="8" font-weight="bold" text-anchor="middle" fill="#000">m</text>
<text class="nl" x="362.7" y="422.1" font-size="8" font-weight="bold" text-anchor="middle" fill="#000">o</text>
<text class="nl" x="356.6" y="437.7" font-size="8" font-weight="bold" text-anchor="middle" fill="#000">p</text>
<text class="nl" x="444.0" y="419.6" font-size="8" font-weight="bold" text-anchor="middle" fill="#000">n</text>
<text class="nl" x="443.8" y="440.0" font-size="8" font-weight="bold" text-anchor="middle" fill="#000">a</text>
<text class="nl" x="412.1" y="445.6" font-size="8" font-weight="bold" text-anchor="middle" fill="#000">c</text>
<text class="nl" x="470.7" y="442.8" font-size="4.5" font-weight="bold" text-anchor="middle" fill="#000">r</text>
<text class="nl" x="363.4" y="469.7" font-size="4.5" font-weight="bold" text-anchor="middle" fill="#000">s</text>
<text class="nl" x="405.0" y="474.5" font-size="8" font-weight="bold" text-anchor="middle" fill="#000">d</text>
<text class="nl" x="430.1" y="479.7" font-size="8" font-weight="bold" text-anchor="middle" fill="#000">l</text>
<text class="nl" x="449.0" y="481.3" font-size="8" font-weight="bold" text-anchor="middle" fill="#000">i</text>
<text class="nl" x="389.4" y="490.2" font-size="8" font-weight="bold" text-anchor="middle" fill="#000">f</text>
<text class="nl" x="415.6" y="492.4" font-size="8" font-weight="bold" text-anchor="middle" fill="#000">e</text>
<rect x="517.40" y="355.70" width="138.20" height="147.60" fill="#fff" stroke="#555" stroke-width="0.8"/>
<line x1="655.60" y1="355.70" x2="655.60" y2="503.30" stroke="#111" stroke-width="0.8"/>
<rect x="656.05" y="355.70" width="3.70" height="147.60" fill="url(#vg)" stroke="#111" stroke-width="0.7"/>
<text x="573.30" y="352.00" font-size="8.4" textLength="26.4" lengthAdjust="spacingAndGlyphs" fill="#111">Prss34</text>
<text transform="translate(664.80 428.00) rotate(90) scale(0.948 1)" font-size="7.6" text-anchor="middle" fill="#111">Normalized expression of Prss34</text>
<line x1="547.5" y1="378.7" x2="566.8" y2="379.8" stroke="#000" stroke-width="1.40"/>
<line x1="547.5" y1="378.7" x2="546.6" y2="399.4" stroke="#000" stroke-width="1.70"/>
<line x1="546.6" y1="399.4" x2="566.8" y2="379.8" stroke="#000" stroke-width="1.20"/>
<line x1="546.6" y1="399.4" x2="535.1" y2="420.2" stroke="#000" stroke-width="1.30"/>
<line x1="535.1" y1="420.2" x2="529.0" y2="436.6" stroke="#000" stroke-width="2.60"/>
<line x1="566.8" y1="379.8" x2="588.5" y2="369.0" stroke="#000" stroke-width="1.30"/>
<line x1="566.8" y1="379.8" x2="596.0" y2="393.8" stroke="#000" stroke-width="0.45"/>
<line x1="588.5" y1="369.0" x2="611.5" y2="375.7" stroke="#000" stroke-width="1.50"/>
<line x1="588.5" y1="369.0" x2="596.0" y2="393.8" stroke="#000" stroke-width="0.90"/>
<line x1="596.0" y1="393.8" x2="611.5" y2="375.7" stroke="#000" stroke-width="1.20"/>
<line x1="611.5" y1="375.7" x2="628.2" y2="396.7" stroke="#000" stroke-width="1.50"/>
<line x1="596.0" y1="393.8" x2="616.5" y2="417.7" stroke="#000" stroke-width="1.00"/>
<line x1="596.0" y1="393.8" x2="616.2" y2="438.1" stroke="#000" stroke-width="0.40"/>
<line x1="628.2" y1="396.7" x2="616.5" y2="417.7" stroke="#000" stroke-width="0.50"/>
<line x1="628.2" y1="396.7" x2="616.2" y2="438.1" stroke="#000" stroke-width="0.45"/>
<line x1="628.2" y1="396.7" x2="584.5" y2="443.7" stroke="#000" stroke-width="0.40"/>
<line x1="616.5" y1="417.7" x2="616.2" y2="438.1" stroke="#000" stroke-width="2.40"/>
<line x1="616.2" y1="438.1" x2="584.5" y2="443.7" stroke="#000" stroke-width="0.70"/>
<line x1="616.2" y1="438.1" x2="643.1" y2="441.9" stroke="#000" stroke-width="0.70"/>
<line x1="616.2" y1="438.1" x2="621.5" y2="478.8" stroke="#000" stroke-width="0.40"/>
<line x1="616.2" y1="438.1" x2="588.0" y2="490.5" stroke="#000" stroke-width="0.45"/>
<line x1="584.5" y1="443.7" x2="577.5" y2="472.0" stroke="#000" stroke-width="1.15"/>
<line x1="584.5" y1="443.7" x2="602.5" y2="477.2" stroke="#000" stroke-width="0.40"/>
<line x1="577.5" y1="472.0" x2="602.5" y2="477.2" stroke="#000" stroke-width="1.40"/>
<line x1="577.5" y1="472.0" x2="588.0" y2="490.5" stroke="#000" stroke-width="1.45"/>
<line x1="577.5" y1="472.0" x2="561.8" y2="487.7" stroke="#000" stroke-width="1.45"/>
<line x1="561.8" y1="487.7" x2="588.0" y2="490.5" stroke="#000" stroke-width="0.60"/>
<line x1="588.0" y1="490.5" x2="602.5" y2="477.2" stroke="#000" stroke-width="1.00"/>
<line x1="588.0" y1="490.5" x2="621.5" y2="478.8" stroke="#000" stroke-width="0.45"/>
<line x1="602.5" y1="477.2" x2="621.5" y2="478.8" stroke="#000" stroke-width="1.55"/>
<line x1="628.2" y1="396.7" x2="616.2" y2="438.1" stroke="#000" stroke-width="0.40"/>
<circle cx="547.5" cy="378.7" r="3.7" fill="#440154"/>
<circle cx="566.8" cy="379.8" r="3.7" fill="#440154"/>
<circle cx="588.5" cy="369.0" r="4.0" fill="#440154"/>
<circle cx="611.5" cy="375.7" r="4.0" fill="#440154"/>
<circle cx="628.2" cy="396.7" r="4.0" fill="#440154"/>
<circle cx="596.0" cy="393.8" r="2.7" fill="#32668d"/>
<circle cx="546.6" cy="399.4" r="3.5" fill="#440154"/>
<circle cx="535.1" cy="420.2" r="3.0" fill="#440154"/>
<circle cx="529.0" cy="436.6" r="3.0" fill="#440154"/>
<circle cx="616.5" cy="417.7" r="3.4" fill="#fde725"/>
<circle cx="616.2" cy="438.1" r="4.4" fill="#440154"/>
<circle cx="584.5" cy="443.7" r="4.0" fill="#440154"/>
<circle cx="643.1" cy="441.9" r="2.3" fill="#440154"/>
<circle cx="535.8" cy="468.8" r="2.4" fill="#440154"/>
<circle cx="577.5" cy="472.0" r="4.0" fill="#440154"/>
<circle cx="602.5" cy="477.2" r="4.0" fill="#440154"/>
<circle cx="621.5" cy="478.8" r="4.0" fill="#440154"/>
<circle cx="561.8" cy="487.7" r="4.0" fill="#440154"/>
<circle cx="588.0" cy="490.5" r="4.0" fill="#440154"/>
<text class="nl" x="547.5" y="380.1" font-size="8" font-weight="bold" text-anchor="middle" fill="#000">g</text>
<text class="nl" x="566.8" y="381.2" font-size="8" font-weight="bold" text-anchor="middle" fill="#000">j</text>
<text class="nl" x="588.5" y="371.8" font-size="8" font-weight="bold" text-anchor="middle" fill="#000">b</text>
<text class="nl" x="611.5" y="378.5" font-size="8" font-weight="bold" text-anchor="middle" fill="#000">k</text>
<text class="nl" x="628.2" y="399.5" font-size="8" font-weight="bold" text-anchor="middle" fill="#000">h</text>
<text class="nl" x="596.0" y="395.2" font-size="8" font-weight="bold" text-anchor="middle" fill="#000">q</text>
<text class="nl" x="546.6" y="401.6" font-size="8" font-weight="bold" text-anchor="middle" fill="#000">m</text>
<text class="nl" x="535.1" y="422.4" font-size="8" font-weight="bold" text-anchor="middle" fill="#000">o</text>
<text class="nl" x="529.0" y="438.0" font-size="8" font-weight="bold" text-anchor="middle" fill="#000">p</text>
<text class="nl" x="616.5" y="419.9" font-size="8" font-weight="bold" text-anchor="middle" fill="#000">n</text>
<text class="nl" x="616.2" y="440.3" font-size="8" font-weight="bold" text-anchor="middle" fill="#000">a</text>
<text class="nl" x="584.5" y="445.9" font-size="8" font-weight="bold" text-anchor="middle" fill="#000">c</text>
<text class="nl" x="643.1" y="443.1" font-size="4.5" font-weight="bold" text-anchor="middle" fill="#000">r</text>
<text class="nl" x="535.8" y="470.0" font-size="4.5" font-weight="bold" text-anchor="middle" fill="#000">s</text>
<text class="nl" x="577.5" y="474.8" font-size="8" font-weight="bold" text-anchor="middle" fill="#000">d</text>
<text class="nl" x="602.5" y="480.0" font-size="8" font-weight="bold" text-anchor="middle" fill="#000">l</text>
<text class="nl" x="621.5" y="481.6" font-size="8" font-weight="bold" text-anchor="middle" fill="#000">i</text>
<text class="nl" x="561.8" y="490.5" font-size="8" font-weight="bold" text-anchor="middle" fill="#000">f</text>
<text class="nl" x="588.0" y="492.7" font-size="8" font-weight="bold" text-anchor="middle" fill="#000">e</text>
<line x1="333.2" y1="5" x2="333.2" y2="503.5" stroke="#111" stroke-width="1.5" stroke-dasharray="4.15 3.13" stroke-dashoffset="1.35"/>
<text transform="translate(4.0 9.8) scale(1 1)" font-size="13.7" fill="#000">A</text>
<text transform="translate(346.2 10.4) scale(1 1)" font-size="14" fill="#000">B</text>
<text transform="translate(3.3 181.2) scale(1 1)" font-size="13.8" fill="#000">C</text>
<text transform="translate(345.6 181.0) scale(1 1)" font-size="14" fill="#000">D</text>
<text transform="translate(4.1 351.8) scale(0.9 1)" font-size="14" fill="#000">E</text>
<text transform="translate(346.7 351.8) scale(1 1)" font-size="14" fill="#000">F</text>
</g></svg>
</body></html>
